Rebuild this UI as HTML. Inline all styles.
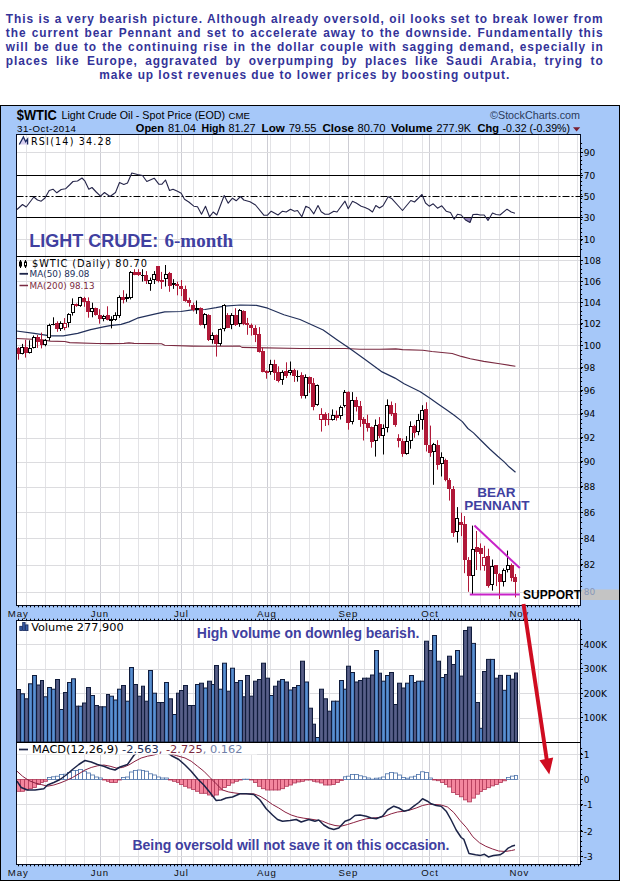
<!DOCTYPE html>
<html><head><meta charset="utf-8"><title>Light Crude 6-month chart</title>
<style>
html,body{margin:0;padding:0;background:#fff;}
body{width:620px;height:881px;position:relative;overflow:hidden;font-family:"Liberation Sans",Arial,sans-serif;}
.para{position:absolute;left:5.8px;top:11.5px;width:597.8px;color:#333399;font-weight:bold;font-size:11.9px;line-height:14px;letter-spacing:0.93px;}
.ln{text-align:justify;text-align-last:justify;white-space:nowrap;height:14px;}
.ln.last{text-align:center;text-align-last:center;}
</style></head><body>
<div class="para"><div class="ln">This is a very bearish picture. Although already oversold, oil looks set to break lower from</div><div class="ln">the current bear Pennant and set to accelerate away to the downside. Fundamentally this</div><div class="ln">will be due to the continuing rise in the dollar couple with sagging demand, especially in</div><div class="ln">places like Europe, aggravated by overpumping by places like Saudi Arabia, trying to</div><div class="ln last">make up lost revenues due to lower prices by boosting output.</div></div>
<svg width="620" height="776" viewBox="0 105 620 776" style="position:absolute;left:0;top:105px" font-family="Liberation Sans, Arial, sans-serif">
<rect x="0.5" y="105.5" width="619" height="775" fill="#a6c8f9" stroke="#000" stroke-width="1"/>
<rect x="16.5" y="134.5" width="564.0" height="471.0" fill="#fff"/>
<rect x="16.5" y="620.5" width="564.0" height="244.0" fill="#fff"/>
<line x1="26.5" y1="134.5" x2="26.5" y2="605.5" stroke="#e3e3e6" stroke-width="1"/>
<line x1="45.5" y1="134.5" x2="45.5" y2="605.5" stroke="#e3e3e6" stroke-width="1"/>
<line x1="65.5" y1="134.5" x2="65.5" y2="605.5" stroke="#e3e3e6" stroke-width="1"/>
<line x1="84.5" y1="134.5" x2="84.5" y2="605.5" stroke="#e3e3e6" stroke-width="1"/>
<line x1="100.5" y1="134.5" x2="100.5" y2="605.5" stroke="#e3e3e6" stroke-width="1"/>
<line x1="119.5" y1="134.5" x2="119.5" y2="605.5" stroke="#e3e3e6" stroke-width="1"/>
<line x1="138.5" y1="134.5" x2="138.5" y2="605.5" stroke="#e3e3e6" stroke-width="1"/>
<line x1="158.5" y1="134.5" x2="158.5" y2="605.5" stroke="#e3e3e6" stroke-width="1"/>
<line x1="177.5" y1="134.5" x2="177.5" y2="605.5" stroke="#e3e3e6" stroke-width="1"/>
<line x1="193.5" y1="134.5" x2="193.5" y2="605.5" stroke="#e3e3e6" stroke-width="1"/>
<line x1="212.5" y1="134.5" x2="212.5" y2="605.5" stroke="#e3e3e6" stroke-width="1"/>
<line x1="232.5" y1="134.5" x2="232.5" y2="605.5" stroke="#e3e3e6" stroke-width="1"/>
<line x1="251.5" y1="134.5" x2="251.5" y2="605.5" stroke="#e3e3e6" stroke-width="1"/>
<line x1="270.5" y1="134.5" x2="270.5" y2="605.5" stroke="#e3e3e6" stroke-width="1"/>
<line x1="290.5" y1="134.5" x2="290.5" y2="605.5" stroke="#e3e3e6" stroke-width="1"/>
<line x1="309.5" y1="134.5" x2="309.5" y2="605.5" stroke="#e3e3e6" stroke-width="1"/>
<line x1="329.5" y1="134.5" x2="329.5" y2="605.5" stroke="#e3e3e6" stroke-width="1"/>
<line x1="348.5" y1="134.5" x2="348.5" y2="605.5" stroke="#e3e3e6" stroke-width="1"/>
<line x1="364.5" y1="134.5" x2="364.5" y2="605.5" stroke="#e3e3e6" stroke-width="1"/>
<line x1="383.5" y1="134.5" x2="383.5" y2="605.5" stroke="#e3e3e6" stroke-width="1"/>
<line x1="402.5" y1="134.5" x2="402.5" y2="605.5" stroke="#e3e3e6" stroke-width="1"/>
<line x1="422.5" y1="134.5" x2="422.5" y2="605.5" stroke="#e3e3e6" stroke-width="1"/>
<line x1="441.5" y1="134.5" x2="441.5" y2="605.5" stroke="#e3e3e6" stroke-width="1"/>
<line x1="461.5" y1="134.5" x2="461.5" y2="605.5" stroke="#e3e3e6" stroke-width="1"/>
<line x1="480.5" y1="134.5" x2="480.5" y2="605.5" stroke="#e3e3e6" stroke-width="1"/>
<line x1="499.5" y1="134.5" x2="499.5" y2="605.5" stroke="#e3e3e6" stroke-width="1"/>
<line x1="519.5" y1="134.5" x2="519.5" y2="605.5" stroke="#e3e3e6" stroke-width="1"/>
<line x1="538.5" y1="134.5" x2="538.5" y2="605.5" stroke="#e3e3e6" stroke-width="1"/>
<line x1="558.5" y1="134.5" x2="558.5" y2="605.5" stroke="#e3e3e6" stroke-width="1"/>
<line x1="577.5" y1="134.5" x2="577.5" y2="605.5" stroke="#e3e3e6" stroke-width="1"/>
<line x1="100.5" y1="134.5" x2="100.5" y2="605.5" stroke="#cdcdd4" stroke-width="1"/>
<line x1="181.5" y1="134.5" x2="181.5" y2="605.5" stroke="#cdcdd4" stroke-width="1"/>
<line x1="267.5" y1="134.5" x2="267.5" y2="605.5" stroke="#cdcdd4" stroke-width="1"/>
<line x1="348.5" y1="134.5" x2="348.5" y2="605.5" stroke="#cdcdd4" stroke-width="1"/>
<line x1="429.5" y1="134.5" x2="429.5" y2="605.5" stroke="#cdcdd4" stroke-width="1"/>
<line x1="519.5" y1="134.5" x2="519.5" y2="605.5" stroke="#cdcdd4" stroke-width="1"/>
<line x1="26.5" y1="620.5" x2="26.5" y2="864.5" stroke="#e3e3e6" stroke-width="1"/>
<line x1="45.5" y1="620.5" x2="45.5" y2="864.5" stroke="#e3e3e6" stroke-width="1"/>
<line x1="65.5" y1="620.5" x2="65.5" y2="864.5" stroke="#e3e3e6" stroke-width="1"/>
<line x1="84.5" y1="620.5" x2="84.5" y2="864.5" stroke="#e3e3e6" stroke-width="1"/>
<line x1="100.5" y1="620.5" x2="100.5" y2="864.5" stroke="#e3e3e6" stroke-width="1"/>
<line x1="119.5" y1="620.5" x2="119.5" y2="864.5" stroke="#e3e3e6" stroke-width="1"/>
<line x1="138.5" y1="620.5" x2="138.5" y2="864.5" stroke="#e3e3e6" stroke-width="1"/>
<line x1="158.5" y1="620.5" x2="158.5" y2="864.5" stroke="#e3e3e6" stroke-width="1"/>
<line x1="177.5" y1="620.5" x2="177.5" y2="864.5" stroke="#e3e3e6" stroke-width="1"/>
<line x1="193.5" y1="620.5" x2="193.5" y2="864.5" stroke="#e3e3e6" stroke-width="1"/>
<line x1="212.5" y1="620.5" x2="212.5" y2="864.5" stroke="#e3e3e6" stroke-width="1"/>
<line x1="232.5" y1="620.5" x2="232.5" y2="864.5" stroke="#e3e3e6" stroke-width="1"/>
<line x1="251.5" y1="620.5" x2="251.5" y2="864.5" stroke="#e3e3e6" stroke-width="1"/>
<line x1="270.5" y1="620.5" x2="270.5" y2="864.5" stroke="#e3e3e6" stroke-width="1"/>
<line x1="290.5" y1="620.5" x2="290.5" y2="864.5" stroke="#e3e3e6" stroke-width="1"/>
<line x1="309.5" y1="620.5" x2="309.5" y2="864.5" stroke="#e3e3e6" stroke-width="1"/>
<line x1="329.5" y1="620.5" x2="329.5" y2="864.5" stroke="#e3e3e6" stroke-width="1"/>
<line x1="348.5" y1="620.5" x2="348.5" y2="864.5" stroke="#e3e3e6" stroke-width="1"/>
<line x1="364.5" y1="620.5" x2="364.5" y2="864.5" stroke="#e3e3e6" stroke-width="1"/>
<line x1="383.5" y1="620.5" x2="383.5" y2="864.5" stroke="#e3e3e6" stroke-width="1"/>
<line x1="402.5" y1="620.5" x2="402.5" y2="864.5" stroke="#e3e3e6" stroke-width="1"/>
<line x1="422.5" y1="620.5" x2="422.5" y2="864.5" stroke="#e3e3e6" stroke-width="1"/>
<line x1="441.5" y1="620.5" x2="441.5" y2="864.5" stroke="#e3e3e6" stroke-width="1"/>
<line x1="461.5" y1="620.5" x2="461.5" y2="864.5" stroke="#e3e3e6" stroke-width="1"/>
<line x1="480.5" y1="620.5" x2="480.5" y2="864.5" stroke="#e3e3e6" stroke-width="1"/>
<line x1="499.5" y1="620.5" x2="499.5" y2="864.5" stroke="#e3e3e6" stroke-width="1"/>
<line x1="519.5" y1="620.5" x2="519.5" y2="864.5" stroke="#e3e3e6" stroke-width="1"/>
<line x1="538.5" y1="620.5" x2="538.5" y2="864.5" stroke="#e3e3e6" stroke-width="1"/>
<line x1="558.5" y1="620.5" x2="558.5" y2="864.5" stroke="#e3e3e6" stroke-width="1"/>
<line x1="577.5" y1="620.5" x2="577.5" y2="864.5" stroke="#e3e3e6" stroke-width="1"/>
<line x1="100.5" y1="620.5" x2="100.5" y2="864.5" stroke="#cdcdd4" stroke-width="1"/>
<line x1="181.5" y1="620.5" x2="181.5" y2="864.5" stroke="#cdcdd4" stroke-width="1"/>
<line x1="267.5" y1="620.5" x2="267.5" y2="864.5" stroke="#cdcdd4" stroke-width="1"/>
<line x1="348.5" y1="620.5" x2="348.5" y2="864.5" stroke="#cdcdd4" stroke-width="1"/>
<line x1="429.5" y1="620.5" x2="429.5" y2="864.5" stroke="#cdcdd4" stroke-width="1"/>
<line x1="519.5" y1="620.5" x2="519.5" y2="864.5" stroke="#cdcdd4" stroke-width="1"/>
<line x1="16.5" y1="239.5" x2="580.5" y2="239.5" stroke="#dcdcdf" stroke-width="1" />
<line x1="16.5" y1="152.5" x2="580.5" y2="152.5" stroke="#dcdcdf" stroke-width="1" />
<line x1="16.5" y1="592.5" x2="580.5" y2="592.5" stroke="#dcdcdf" stroke-width="1" />
<line x1="16.5" y1="565.5" x2="580.5" y2="565.5" stroke="#dcdcdf" stroke-width="1" />
<line x1="16.5" y1="538.5" x2="580.5" y2="538.5" stroke="#dcdcdf" stroke-width="1" />
<line x1="16.5" y1="512.5" x2="580.5" y2="512.5" stroke="#dcdcdf" stroke-width="1" />
<line x1="16.5" y1="487.5" x2="580.5" y2="487.5" stroke="#dcdcdf" stroke-width="1" />
<line x1="16.5" y1="462.5" x2="580.5" y2="462.5" stroke="#dcdcdf" stroke-width="1" />
<line x1="16.5" y1="438.5" x2="580.5" y2="438.5" stroke="#dcdcdf" stroke-width="1" />
<line x1="16.5" y1="414.5" x2="580.5" y2="414.5" stroke="#dcdcdf" stroke-width="1" />
<line x1="16.5" y1="391.5" x2="580.5" y2="391.5" stroke="#dcdcdf" stroke-width="1" />
<line x1="16.5" y1="368.5" x2="580.5" y2="368.5" stroke="#dcdcdf" stroke-width="1" />
<line x1="16.5" y1="345.5" x2="580.5" y2="345.5" stroke="#dcdcdf" stroke-width="1" />
<line x1="16.5" y1="324.5" x2="580.5" y2="324.5" stroke="#dcdcdf" stroke-width="1" />
<line x1="16.5" y1="302.5" x2="580.5" y2="302.5" stroke="#dcdcdf" stroke-width="1" />
<line x1="16.5" y1="281.5" x2="580.5" y2="281.5" stroke="#dcdcdf" stroke-width="1" />
<line x1="16.5" y1="260.5" x2="580.5" y2="260.5" stroke="#dcdcdf" stroke-width="1" />
<line x1="16.5" y1="718.5" x2="580.5" y2="718.5" stroke="#dcdcdf" stroke-width="1" />
<line x1="16.5" y1="693.5" x2="580.5" y2="693.5" stroke="#dcdcdf" stroke-width="1" />
<line x1="16.5" y1="669.5" x2="580.5" y2="669.5" stroke="#dcdcdf" stroke-width="1" />
<line x1="16.5" y1="644.5" x2="580.5" y2="644.5" stroke="#dcdcdf" stroke-width="1" />
<line x1="16.5" y1="754.5" x2="580.5" y2="754.5" stroke="#dcdcdf" stroke-width="1" />
<line x1="16.5" y1="779.5" x2="580.5" y2="779.5" stroke="#dcdcdf" stroke-width="1" />
<line x1="16.5" y1="804.5" x2="580.5" y2="804.5" stroke="#dcdcdf" stroke-width="1" />
<line x1="16.5" y1="831.5" x2="580.5" y2="831.5" stroke="#dcdcdf" stroke-width="1" />
<line x1="16.5" y1="856.5" x2="580.5" y2="856.5" stroke="#dcdcdf" stroke-width="1" />
<clipPath id="c30"><rect x="16.5" y="217.5" width="564.0" height="40"/></clipPath>
<polygon clip-path="url(#c30)" fill="#9484b8" points="17.0,209.5 22.5,204.5 26.2,207.0 33.8,197.0 37.5,200.0 41.2,201.2 45.0,198.0 49.2,190.5 53.0,189.2 56.8,192.8 61.2,189.5 65.5,188.8 69.5,185.0 73.0,181.5 77.5,181.0 82.0,178.0 85.0,181.2 88.8,189.2 92.0,187.5 96.2,192.0 100.5,196.2 104.5,192.5 110.0,196.5 115.5,192.5 119.5,182.5 123.8,184.5 127.5,183.0 131.8,173.0 137.5,174.5 142.5,175.5 146.8,181.5 154.2,178.2 158.8,184.2 162.0,184.2 165.5,180.0 169.5,190.5 173.0,189.2 177.5,191.2 181.2,193.2 184.5,199.2 188.8,202.0 193.8,206.2 197.5,206.8 201.5,214.2 205.5,206.2 209.5,216.8 213.2,212.0 216.8,215.0 224.2,195.5 228.2,203.2 232.5,198.2 236.2,200.8 240.5,196.5 243.8,200.0 250.0,201.8 255.5,205.0 263.8,215.2 267.5,215.2 271.2,211.2 278.0,215.0 282.5,211.2 286.2,212.0 290.5,209.2 294.5,211.2 297.5,210.5 301.8,216.8 305.8,206.2 309.5,208.0 313.8,213.8 318.0,205.5 321.2,211.8 325.0,214.2 328.8,214.2 333.8,211.2 337.0,212.0 345.0,201.2 348.2,208.8 352.5,201.2 356.2,203.0 361.2,206.2 365.0,207.5 368.8,209.2 372.5,212.0 375.8,205.5 379.5,208.0 383.0,205.8 388.2,196.8 392.0,198.8 402.5,210.5 410.8,200.5 414.5,202.0 422.0,194.5 425.5,203.0 429.2,206.2 433.2,203.8 437.5,208.2 441.8,205.8 446.2,211.2 450.5,212.5 454.2,219.2 457.5,214.2 461.2,215.0 465.5,220.0 470.0,222.5 473.0,214.5 477.0,214.2 480.0,215.0 484.2,215.0 488.0,220.5 492.5,213.0 496.2,214.5 500.0,215.0 507.0,209.2 511.2,212.0 515.0,213.2 515.0,217.5 17.0,217.5"/>
<line x1="16.5" y1="175.5" x2="580.5" y2="175.5" stroke="#000" stroke-width="1" />
<line x1="16.5" y1="217.5" x2="580.5" y2="217.5" stroke="#000" stroke-width="1" />
<line x1="16.5" y1="196.5" x2="580.5" y2="196.5" stroke="#000" stroke-width="1" stroke-dasharray="7 2 2 2"/>
<polyline fill="none" stroke="#26264a" stroke-width="1.1" stroke-linejoin="round" points="17.0,209.5 22.5,204.5 26.2,207.0 33.8,197.0 37.5,200.0 41.2,201.2 45.0,198.0 49.2,190.5 53.0,189.2 56.8,192.8 61.2,189.5 65.5,188.8 69.5,185.0 73.0,181.5 77.5,181.0 82.0,178.0 85.0,181.2 88.8,189.2 92.0,187.5 96.2,192.0 100.5,196.2 104.5,192.5 110.0,196.5 115.5,192.5 119.5,182.5 123.8,184.5 127.5,183.0 131.8,173.0 137.5,174.5 142.5,175.5 146.8,181.5 154.2,178.2 158.8,184.2 162.0,184.2 165.5,180.0 169.5,190.5 173.0,189.2 177.5,191.2 181.2,193.2 184.5,199.2 188.8,202.0 193.8,206.2 197.5,206.8 201.5,214.2 205.5,206.2 209.5,216.8 213.2,212.0 216.8,215.0 224.2,195.5 228.2,203.2 232.5,198.2 236.2,200.8 240.5,196.5 243.8,200.0 250.0,201.8 255.5,205.0 263.8,215.2 267.5,215.2 271.2,211.2 278.0,215.0 282.5,211.2 286.2,212.0 290.5,209.2 294.5,211.2 297.5,210.5 301.8,216.8 305.8,206.2 309.5,208.0 313.8,213.8 318.0,205.5 321.2,211.8 325.0,214.2 328.8,214.2 333.8,211.2 337.0,212.0 345.0,201.2 348.2,208.8 352.5,201.2 356.2,203.0 361.2,206.2 365.0,207.5 368.8,209.2 372.5,212.0 375.8,205.5 379.5,208.0 383.0,205.8 388.2,196.8 392.0,198.8 402.5,210.5 410.8,200.5 414.5,202.0 422.0,194.5 425.5,203.0 429.2,206.2 433.2,203.8 437.5,208.2 441.8,205.8 446.2,211.2 450.5,212.5 454.2,219.2 457.5,214.2 461.2,215.0 465.5,220.0 470.0,222.5 473.0,214.5 477.0,214.2 480.0,215.0 484.2,215.0 488.0,220.5 492.5,213.0 496.2,214.5 500.0,215.0 507.0,209.2 511.2,212.0 515.0,213.2"/>
<polyline fill="none" stroke="#7a2a40" stroke-width="1.1" stroke-linejoin="round" points="16.5,338.5 42.3,339.8 50.3,341.1 64.8,341.5 69.7,342.6 97.1,343.5 110.0,343.6 124.0,343.4 129.0,342.9 134.0,343.4 161.5,343.7 164.7,345.3 192.1,346.1 205.0,346.3 240.0,346.1 242.0,347.4 300.0,348.5 345.0,348.5 360.0,349.2 380.0,349.2 395.8,348.9 402.6,349.6 422.9,350.3 431.9,351.5 452.2,353.5 461.3,356.4 470.3,358.7 483.8,361.4 499.6,363.7 515.4,366.3"/>
<polyline fill="none" stroke="#22305a" stroke-width="1.2" stroke-linejoin="round" points="16.5,331.0 34.2,333.4 50.3,335.8 63.2,335.8 77.7,333.4 90.6,329.7 103.5,326.9 110.0,325.6 121.1,324.4 129.2,321.9 137.3,318.2 153.4,314.4 164.7,311.9 180.8,311.5 192.1,309.8 205.0,309.5 216.1,307.7 224.2,306.1 240.3,305.0 256.5,305.3 267.7,308.2 283.9,314.7 300.0,319.5 323.2,330.0 336.9,339.7 349.8,348.5 364.4,359.0 382.1,371.9 395.0,378.1 404.1,383.7 420.3,391.8 430.0,398.2 438.1,403.9 446.1,409.5 454.2,415.2 462.3,421.6 467.9,428.5 473.5,432.9 481.6,441.0 489.7,449.0 497.7,456.3 504.2,461.9 509.0,466.8 515.5,472.3"/>
<line x1="18.5" y1="347.1" x2="18.5" y2="359.7" stroke="#b01838" stroke-width="1"/>
<rect x="16" y="348" width="4" height="6" fill="#b01838"/>
<line x1="22.5" y1="343.9" x2="22.5" y2="354.4" stroke="#000" stroke-width="1"/>
<rect x="20.5" y="347.5" width="3" height="6" fill="#fff" stroke="#000" stroke-width="1"/>
<line x1="25.5" y1="339.8" x2="25.5" y2="357.6" stroke="#b01838" stroke-width="1"/>
<rect x="24" y="347" width="4" height="6" fill="#b01838"/>
<line x1="29.5" y1="340.3" x2="29.5" y2="353.5" stroke="#000" stroke-width="1"/>
<rect x="28.5" y="348.5" width="3" height="4" fill="#fff" stroke="#000" stroke-width="1"/>
<line x1="33.5" y1="335.5" x2="33.5" y2="348.4" stroke="#000" stroke-width="1"/>
<rect x="32.5" y="337.5" width="3" height="10" fill="#fff" stroke="#000" stroke-width="1"/>
<line x1="37.5" y1="335.0" x2="37.5" y2="347.9" stroke="#b01838" stroke-width="1"/>
<rect x="36" y="337" width="4" height="5" fill="#b01838"/>
<line x1="41.5" y1="332.6" x2="41.5" y2="348.4" stroke="#b01838" stroke-width="1"/>
<rect x="40" y="340" width="4" height="5" fill="#b01838"/>
<line x1="45.5" y1="339.0" x2="45.5" y2="346.3" stroke="#000" stroke-width="1"/>
<rect x="43.5" y="340.5" width="3" height="4" fill="#fff" stroke="#000" stroke-width="1"/>
<line x1="49.5" y1="323.7" x2="49.5" y2="340.6" stroke="#000" stroke-width="1"/>
<rect x="47.5" y="325.5" width="3" height="12" fill="#fff" stroke="#000" stroke-width="1"/>
<line x1="53.5" y1="317.3" x2="53.5" y2="325.3" stroke="#000" stroke-width="1"/>
<rect x="51" y="324" width="4" height="1" fill="#000"/>
<line x1="57.5" y1="321.3" x2="57.5" y2="331.8" stroke="#b01838" stroke-width="1"/>
<rect x="55" y="323" width="4" height="6" fill="#b01838"/>
<line x1="60.5" y1="321.3" x2="60.5" y2="331.0" stroke="#000" stroke-width="1"/>
<rect x="59.5" y="323.5" width="3" height="5" fill="#fff" stroke="#000" stroke-width="1"/>
<line x1="64.5" y1="318.1" x2="64.5" y2="330.2" stroke="#b01838" stroke-width="1"/>
<rect x="63.5" y="323.5" width="3" height="4" fill="#fff" stroke="#b01838" stroke-width="1"/>
<line x1="68.5" y1="313.2" x2="68.5" y2="327.4" stroke="#000" stroke-width="1"/>
<rect x="67.5" y="314.5" width="3" height="8" fill="#fff" stroke="#000" stroke-width="1"/>
<line x1="72.5" y1="298.4" x2="72.5" y2="315.6" stroke="#000" stroke-width="1"/>
<rect x="71.5" y="304.5" width="3" height="8" fill="#fff" stroke="#000" stroke-width="1"/>
<line x1="76.5" y1="303.5" x2="76.5" y2="306.8" stroke="#b01838" stroke-width="1"/>
<rect x="74" y="304" width="4" height="2" fill="#b01838"/>
<line x1="80.5" y1="296.8" x2="80.5" y2="306.8" stroke="#000" stroke-width="1"/>
<rect x="78.5" y="297.5" width="3" height="8" fill="#fff" stroke="#000" stroke-width="1"/>
<line x1="84.5" y1="296.8" x2="84.5" y2="306.8" stroke="#b01838" stroke-width="1"/>
<rect x="82" y="298" width="4" height="4" fill="#b01838"/>
<line x1="88.5" y1="297.4" x2="88.5" y2="317.7" stroke="#b01838" stroke-width="1"/>
<rect x="86" y="301" width="4" height="11" fill="#b01838"/>
<line x1="92.5" y1="302.7" x2="92.5" y2="317.3" stroke="#000" stroke-width="1"/>
<rect x="90.5" y="308.5" width="3" height="3" fill="#fff" stroke="#000" stroke-width="1"/>
<line x1="95.5" y1="307.6" x2="95.5" y2="315.6" stroke="#b01838" stroke-width="1"/>
<rect x="94" y="308" width="4" height="7" fill="#b01838"/>
<line x1="99.5" y1="309.2" x2="99.5" y2="323.7" stroke="#b01838" stroke-width="1"/>
<rect x="98" y="315" width="4" height="4" fill="#b01838"/>
<line x1="103.5" y1="314.8" x2="103.5" y2="321.3" stroke="#000" stroke-width="1"/>
<rect x="102.5" y="316.5" width="3" height="2" fill="#fff" stroke="#000" stroke-width="1"/>
<line x1="107.5" y1="306.3" x2="107.5" y2="320.3" stroke="#b01838" stroke-width="1"/>
<rect x="106" y="315" width="4" height="5" fill="#b01838"/>
<line x1="111.5" y1="316.3" x2="111.5" y2="328.4" stroke="#000" stroke-width="1"/>
<rect x="109" y="319" width="4" height="2" fill="#000"/>
<line x1="115.5" y1="312.3" x2="115.5" y2="320.8" stroke="#000" stroke-width="1"/>
<rect x="113.5" y="315.5" width="3" height="4" fill="#fff" stroke="#000" stroke-width="1"/>
<line x1="119.5" y1="295.3" x2="119.5" y2="317.9" stroke="#000" stroke-width="1"/>
<rect x="117.5" y="297.5" width="3" height="18" fill="#fff" stroke="#000" stroke-width="1"/>
<line x1="123.5" y1="290.2" x2="123.5" y2="303.4" stroke="#b01838" stroke-width="1"/>
<rect x="121" y="297" width="4" height="3" fill="#b01838"/>
<line x1="126.5" y1="293.7" x2="126.5" y2="301.8" stroke="#000" stroke-width="1"/>
<rect x="125.5" y="297.5" width="3" height="1" fill="#fff" stroke="#000" stroke-width="1"/>
<line x1="130.5" y1="271.1" x2="130.5" y2="299.4" stroke="#000" stroke-width="1"/>
<rect x="129.5" y="272.5" width="3" height="25" fill="#fff" stroke="#000" stroke-width="1"/>
<line x1="134.5" y1="269.2" x2="134.5" y2="275.2" stroke="#b01838" stroke-width="1"/>
<rect x="133" y="272" width="4" height="3" fill="#b01838"/>
<line x1="138.5" y1="269.2" x2="138.5" y2="276.0" stroke="#b01838" stroke-width="1"/>
<rect x="137" y="272" width="4" height="3" fill="#b01838"/>
<line x1="142.5" y1="269.2" x2="142.5" y2="281.6" stroke="#000" stroke-width="1"/>
<rect x="141" y="275" width="4" height="1" fill="#000"/>
<line x1="146.5" y1="271.1" x2="146.5" y2="284.0" stroke="#b01838" stroke-width="1"/>
<rect x="144" y="275" width="4" height="6" fill="#b01838"/>
<line x1="150.5" y1="277.6" x2="150.5" y2="290.8" stroke="#000" stroke-width="1"/>
<rect x="148.5" y="280.5" width="3" height="3" fill="#fff" stroke="#000" stroke-width="1"/>
<line x1="154.5" y1="271.1" x2="154.5" y2="284.0" stroke="#000" stroke-width="1"/>
<rect x="152.5" y="274.5" width="3" height="5" fill="#fff" stroke="#000" stroke-width="1"/>
<line x1="158.5" y1="266.0" x2="158.5" y2="282.4" stroke="#b01838" stroke-width="1"/>
<rect x="156" y="266" width="4" height="15" fill="#b01838"/>
<line x1="161.5" y1="271.9" x2="161.5" y2="288.9" stroke="#b01838" stroke-width="1"/>
<rect x="160" y="280" width="4" height="2" fill="#b01838"/>
<line x1="165.5" y1="265.0" x2="165.5" y2="286.5" stroke="#000" stroke-width="1"/>
<rect x="164.5" y="274.5" width="3" height="4" fill="#fff" stroke="#000" stroke-width="1"/>
<line x1="169.5" y1="271.9" x2="169.5" y2="291.8" stroke="#b01838" stroke-width="1"/>
<rect x="168" y="273" width="4" height="13" fill="#b01838"/>
<line x1="173.5" y1="279.2" x2="173.5" y2="288.9" stroke="#000" stroke-width="1"/>
<rect x="172" y="283" width="4" height="2" fill="#000"/>
<line x1="177.5" y1="281.6" x2="177.5" y2="295.3" stroke="#b01838" stroke-width="1"/>
<rect x="175" y="284" width="4" height="2" fill="#b01838"/>
<line x1="181.5" y1="280.0" x2="181.5" y2="296.1" stroke="#b01838" stroke-width="1"/>
<rect x="179" y="286" width="4" height="3" fill="#b01838"/>
<line x1="185.5" y1="285.6" x2="185.5" y2="301.8" stroke="#b01838" stroke-width="1"/>
<rect x="183" y="289" width="4" height="12" fill="#b01838"/>
<line x1="189.5" y1="297.7" x2="189.5" y2="306.6" stroke="#b01838" stroke-width="1"/>
<rect x="187" y="300" width="4" height="3" fill="#b01838"/>
<line x1="193.5" y1="302.6" x2="193.5" y2="311.5" stroke="#b01838" stroke-width="1"/>
<rect x="191" y="305" width="4" height="5" fill="#b01838"/>
<line x1="196.5" y1="300.5" x2="196.5" y2="313.9" stroke="#000" stroke-width="1"/>
<rect x="195" y="308" width="4" height="2" fill="#000"/>
<line x1="200.5" y1="307.4" x2="200.5" y2="325.5" stroke="#b01838" stroke-width="1"/>
<rect x="199" y="308" width="4" height="17" fill="#b01838"/>
<line x1="204.5" y1="313.1" x2="204.5" y2="328.4" stroke="#000" stroke-width="1"/>
<rect x="203.5" y="314.5" width="3" height="10" fill="#fff" stroke="#000" stroke-width="1"/>
<line x1="208.5" y1="314.2" x2="208.5" y2="341.0" stroke="#b01838" stroke-width="1"/>
<rect x="207" y="315" width="4" height="25" fill="#b01838"/>
<line x1="212.5" y1="332.4" x2="212.5" y2="343.7" stroke="#000" stroke-width="1"/>
<rect x="210.5" y="335.5" width="3" height="4" fill="#fff" stroke="#000" stroke-width="1"/>
<line x1="216.5" y1="334.5" x2="216.5" y2="356.6" stroke="#b01838" stroke-width="1"/>
<rect x="214" y="335" width="4" height="9" fill="#b01838"/>
<line x1="220.5" y1="328.4" x2="220.5" y2="345.8" stroke="#000" stroke-width="1"/>
<rect x="218.5" y="329.5" width="3" height="14" fill="#fff" stroke="#000" stroke-width="1"/>
<line x1="224.5" y1="304.2" x2="224.5" y2="331.3" stroke="#000" stroke-width="1"/>
<rect x="222.5" y="305.5" width="3" height="23" fill="#fff" stroke="#000" stroke-width="1"/>
<line x1="227.5" y1="313.1" x2="227.5" y2="328.1" stroke="#b01838" stroke-width="1"/>
<rect x="226" y="315" width="4" height="13" fill="#b01838"/>
<line x1="231.5" y1="313.1" x2="231.5" y2="329.2" stroke="#000" stroke-width="1"/>
<rect x="230.5" y="315.5" width="3" height="9" fill="#fff" stroke="#000" stroke-width="1"/>
<line x1="235.5" y1="308.2" x2="235.5" y2="326.0" stroke="#b01838" stroke-width="1"/>
<rect x="234" y="315" width="4" height="10" fill="#b01838"/>
<line x1="239.5" y1="309.0" x2="239.5" y2="326.8" stroke="#000" stroke-width="1"/>
<rect x="238.5" y="310.5" width="3" height="13" fill="#fff" stroke="#000" stroke-width="1"/>
<line x1="243.5" y1="310.3" x2="243.5" y2="325.2" stroke="#b01838" stroke-width="1"/>
<rect x="242" y="311" width="4" height="13" fill="#b01838"/>
<line x1="247.5" y1="317.9" x2="247.5" y2="334.8" stroke="#b01838" stroke-width="1"/>
<rect x="245" y="323" width="4" height="2" fill="#b01838"/>
<line x1="251.5" y1="323.5" x2="251.5" y2="335.6" stroke="#b01838" stroke-width="1"/>
<rect x="249" y="325" width="4" height="3" fill="#b01838"/>
<line x1="255.5" y1="325.2" x2="255.5" y2="342.1" stroke="#b01838" stroke-width="1"/>
<rect x="253" y="328" width="4" height="7" fill="#b01838"/>
<line x1="259.5" y1="327.1" x2="259.5" y2="352.6" stroke="#b01838" stroke-width="1"/>
<rect x="257" y="334" width="4" height="18" fill="#b01838"/>
<line x1="262.5" y1="347.7" x2="262.5" y2="372.3" stroke="#b01838" stroke-width="1"/>
<rect x="261" y="351" width="4" height="21" fill="#b01838"/>
<line x1="266.5" y1="370.3" x2="266.5" y2="378.7" stroke="#b01838" stroke-width="1"/>
<rect x="265" y="371" width="4" height="2" fill="#b01838"/>
<line x1="270.5" y1="359.8" x2="270.5" y2="374.8" stroke="#000" stroke-width="1"/>
<rect x="269.5" y="364.5" width="3" height="7" fill="#fff" stroke="#000" stroke-width="1"/>
<line x1="274.5" y1="359.8" x2="274.5" y2="380.0" stroke="#b01838" stroke-width="1"/>
<rect x="273" y="364" width="4" height="9" fill="#b01838"/>
<line x1="278.5" y1="366.3" x2="278.5" y2="382.4" stroke="#b01838" stroke-width="1"/>
<rect x="276" y="372" width="4" height="9" fill="#b01838"/>
<line x1="282.5" y1="370.3" x2="282.5" y2="384.8" stroke="#000" stroke-width="1"/>
<rect x="280.5" y="372.5" width="3" height="7" fill="#fff" stroke="#000" stroke-width="1"/>
<line x1="286.5" y1="362.3" x2="286.5" y2="378.1" stroke="#b01838" stroke-width="1"/>
<rect x="284" y="371" width="4" height="5" fill="#b01838"/>
<line x1="290.5" y1="361.5" x2="290.5" y2="375.2" stroke="#000" stroke-width="1"/>
<rect x="288.5" y="370.5" width="3" height="2" fill="#fff" stroke="#000" stroke-width="1"/>
<line x1="294.5" y1="368.7" x2="294.5" y2="381.9" stroke="#b01838" stroke-width="1"/>
<rect x="292" y="370" width="4" height="6" fill="#b01838"/>
<line x1="297.5" y1="370.3" x2="297.5" y2="381.6" stroke="#000" stroke-width="1"/>
<rect x="296" y="376" width="4" height="1" fill="#000"/>
<line x1="301.5" y1="372.3" x2="301.5" y2="398.5" stroke="#b01838" stroke-width="1"/>
<rect x="300" y="375" width="4" height="21" fill="#b01838"/>
<line x1="305.5" y1="374.4" x2="305.5" y2="398.5" stroke="#000" stroke-width="1"/>
<rect x="304.5" y="377.5" width="3" height="18" fill="#fff" stroke="#000" stroke-width="1"/>
<line x1="309.5" y1="376.5" x2="309.5" y2="392.9" stroke="#b01838" stroke-width="1"/>
<rect x="308" y="377" width="4" height="7" fill="#b01838"/>
<line x1="313.5" y1="378.1" x2="313.5" y2="410.3" stroke="#b01838" stroke-width="1"/>
<rect x="311" y="383" width="4" height="24" fill="#b01838"/>
<line x1="317.5" y1="384.5" x2="317.5" y2="405.8" stroke="#000" stroke-width="1"/>
<rect x="315.5" y="385.5" width="3" height="19" fill="#fff" stroke="#000" stroke-width="1"/>
<line x1="321.5" y1="408.2" x2="321.5" y2="431.6" stroke="#b01838" stroke-width="1"/>
<rect x="319.5" y="414.5" width="3" height="5" fill="#fff" stroke="#b01838" stroke-width="1"/>
<line x1="325.5" y1="412.3" x2="325.5" y2="426.0" stroke="#b01838" stroke-width="1"/>
<rect x="323" y="414" width="4" height="6" fill="#b01838"/>
<line x1="328.5" y1="413.1" x2="328.5" y2="425.2" stroke="#b01838" stroke-width="1"/>
<rect x="327" y="419" width="4" height="1" fill="#b01838"/>
<line x1="332.5" y1="409.4" x2="332.5" y2="420.6" stroke="#000" stroke-width="1"/>
<rect x="331.5" y="415.5" width="3" height="4" fill="#fff" stroke="#000" stroke-width="1"/>
<line x1="336.5" y1="410.6" x2="336.5" y2="420.6" stroke="#b01838" stroke-width="1"/>
<rect x="335" y="415" width="4" height="3" fill="#b01838"/>
<line x1="340.5" y1="405.5" x2="340.5" y2="419.5" stroke="#000" stroke-width="1"/>
<rect x="339.5" y="407.5" width="3" height="8" fill="#fff" stroke="#000" stroke-width="1"/>
<line x1="344.5" y1="390.0" x2="344.5" y2="407.4" stroke="#000" stroke-width="1"/>
<rect x="343.5" y="392.5" width="3" height="13" fill="#fff" stroke="#000" stroke-width="1"/>
<line x1="348.5" y1="391.3" x2="348.5" y2="429.7" stroke="#b01838" stroke-width="1"/>
<rect x="346" y="392" width="4" height="31" fill="#b01838"/>
<line x1="352.5" y1="392.1" x2="352.5" y2="424.4" stroke="#000" stroke-width="1"/>
<rect x="350.5" y="400.5" width="3" height="21" fill="#fff" stroke="#000" stroke-width="1"/>
<line x1="356.5" y1="396.9" x2="356.5" y2="411.5" stroke="#b01838" stroke-width="1"/>
<rect x="354" y="400" width="4" height="7" fill="#b01838"/>
<line x1="360.5" y1="401.0" x2="360.5" y2="426.8" stroke="#b01838" stroke-width="1"/>
<rect x="358" y="406" width="4" height="14" fill="#b01838"/>
<line x1="363.5" y1="417.1" x2="363.5" y2="440.5" stroke="#b01838" stroke-width="1"/>
<rect x="362" y="419" width="4" height="5" fill="#b01838"/>
<line x1="367.5" y1="414.7" x2="367.5" y2="431.6" stroke="#b01838" stroke-width="1"/>
<rect x="366" y="423" width="4" height="5" fill="#b01838"/>
<line x1="371.5" y1="426.5" x2="371.5" y2="447.7" stroke="#b01838" stroke-width="1"/>
<rect x="370" y="427" width="4" height="15" fill="#b01838"/>
<line x1="375.5" y1="419.5" x2="375.5" y2="456.6" stroke="#000" stroke-width="1"/>
<rect x="374.5" y="425.5" width="3" height="15" fill="#fff" stroke="#000" stroke-width="1"/>
<line x1="379.5" y1="417.1" x2="379.5" y2="438.1" stroke="#b01838" stroke-width="1"/>
<rect x="378" y="424" width="4" height="12" fill="#b01838"/>
<line x1="383.5" y1="424.4" x2="383.5" y2="454.5" stroke="#000" stroke-width="1"/>
<rect x="381.5" y="428.5" width="3" height="7" fill="#fff" stroke="#000" stroke-width="1"/>
<line x1="387.5" y1="399.4" x2="387.5" y2="432.4" stroke="#000" stroke-width="1"/>
<rect x="385.5" y="405.5" width="3" height="22" fill="#fff" stroke="#000" stroke-width="1"/>
<line x1="391.5" y1="401.5" x2="391.5" y2="416.0" stroke="#b01838" stroke-width="1"/>
<rect x="389" y="405" width="4" height="9" fill="#b01838"/>
<line x1="395.5" y1="403.1" x2="395.5" y2="426.8" stroke="#b01838" stroke-width="1"/>
<rect x="393" y="413" width="4" height="12" fill="#b01838"/>
<line x1="398.5" y1="434.2" x2="398.5" y2="447.4" stroke="#b01838" stroke-width="1"/>
<rect x="397" y="438" width="4" height="3" fill="#b01838"/>
<line x1="402.5" y1="438.5" x2="402.5" y2="456.8" stroke="#b01838" stroke-width="1"/>
<rect x="401" y="441" width="4" height="13" fill="#b01838"/>
<line x1="406.5" y1="436.1" x2="406.5" y2="454.7" stroke="#000" stroke-width="1"/>
<rect x="405.5" y="441.5" width="3" height="12" fill="#fff" stroke="#000" stroke-width="1"/>
<line x1="410.5" y1="421.3" x2="410.5" y2="448.7" stroke="#000" stroke-width="1"/>
<rect x="409.5" y="426.5" width="3" height="14" fill="#fff" stroke="#000" stroke-width="1"/>
<line x1="414.5" y1="424.8" x2="414.5" y2="437.7" stroke="#b01838" stroke-width="1"/>
<rect x="412" y="426" width="4" height="7" fill="#b01838"/>
<line x1="418.5" y1="413.9" x2="418.5" y2="435.3" stroke="#000" stroke-width="1"/>
<rect x="416.5" y="420.5" width="3" height="11" fill="#fff" stroke="#000" stroke-width="1"/>
<line x1="422.5" y1="405.2" x2="422.5" y2="429.7" stroke="#000" stroke-width="1"/>
<rect x="420.5" y="410.5" width="3" height="9" fill="#fff" stroke="#000" stroke-width="1"/>
<line x1="426.5" y1="402.3" x2="426.5" y2="451.5" stroke="#b01838" stroke-width="1"/>
<rect x="424" y="409" width="4" height="36" fill="#b01838"/>
<line x1="430.5" y1="425.6" x2="430.5" y2="456.8" stroke="#b01838" stroke-width="1"/>
<rect x="428" y="445" width="4" height="8" fill="#b01838"/>
<line x1="433.5" y1="442.9" x2="433.5" y2="484.8" stroke="#000" stroke-width="1"/>
<rect x="432.5" y="444.5" width="3" height="7" fill="#fff" stroke="#000" stroke-width="1"/>
<line x1="437.5" y1="440.2" x2="437.5" y2="469.7" stroke="#b01838" stroke-width="1"/>
<rect x="436" y="445" width="4" height="20" fill="#b01838"/>
<line x1="441.5" y1="452.3" x2="441.5" y2="476.5" stroke="#000" stroke-width="1"/>
<rect x="440.5" y="457.5" width="3" height="6" fill="#fff" stroke="#000" stroke-width="1"/>
<line x1="445.5" y1="458.7" x2="445.5" y2="481.3" stroke="#b01838" stroke-width="1"/>
<rect x="444" y="460" width="4" height="20" fill="#b01838"/>
<line x1="449.5" y1="478.1" x2="449.5" y2="500.6" stroke="#b01838" stroke-width="1"/>
<rect x="447" y="480" width="4" height="9" fill="#b01838"/>
<line x1="453.5" y1="486.1" x2="453.5" y2="536.9" stroke="#b01838" stroke-width="1"/>
<rect x="451" y="489" width="4" height="44" fill="#b01838"/>
<line x1="457.5" y1="507.1" x2="457.5" y2="542.6" stroke="#000" stroke-width="1"/>
<rect x="455.5" y="518.5" width="3" height="13" fill="#fff" stroke="#000" stroke-width="1"/>
<line x1="461.5" y1="512.7" x2="461.5" y2="536.1" stroke="#b01838" stroke-width="1"/>
<rect x="459" y="522" width="4" height="3" fill="#b01838"/>
<line x1="464.5" y1="516.0" x2="464.5" y2="573.2" stroke="#b01838" stroke-width="1"/>
<rect x="463" y="524" width="4" height="36" fill="#b01838"/>
<line x1="468.5" y1="557.1" x2="468.5" y2="591.8" stroke="#b01838" stroke-width="1"/>
<rect x="467" y="560" width="4" height="16" fill="#b01838"/>
<line x1="472.5" y1="525.6" x2="472.5" y2="594.2" stroke="#000" stroke-width="1"/>
<rect x="471.5" y="549.5" width="3" height="26" fill="#fff" stroke="#000" stroke-width="1"/>
<line x1="476.5" y1="531.0" x2="476.5" y2="570.0" stroke="#b01838" stroke-width="1"/>
<rect x="475" y="547" width="4" height="5" fill="#b01838"/>
<line x1="480.5" y1="543.4" x2="480.5" y2="570.3" stroke="#b01838" stroke-width="1"/>
<rect x="479" y="548" width="4" height="6" fill="#b01838"/>
<line x1="484.5" y1="545.8" x2="484.5" y2="570.8" stroke="#b01838" stroke-width="1"/>
<rect x="482.5" y="557.5" width="3" height="8" fill="#fff" stroke="#b01838" stroke-width="1"/>
<line x1="488.5" y1="548.7" x2="488.5" y2="587.7" stroke="#b01838" stroke-width="1"/>
<rect x="486" y="556" width="4" height="30" fill="#b01838"/>
<line x1="492.5" y1="559.5" x2="492.5" y2="590.6" stroke="#000" stroke-width="1"/>
<rect x="490.5" y="566.5" width="3" height="18" fill="#fff" stroke="#000" stroke-width="1"/>
<line x1="496.5" y1="565.2" x2="496.5" y2="586.1" stroke="#b01838" stroke-width="1"/>
<rect x="494" y="565" width="4" height="9" fill="#b01838"/>
<line x1="499.5" y1="573.2" x2="499.5" y2="599.0" stroke="#b01838" stroke-width="1"/>
<rect x="498" y="574" width="4" height="8" fill="#b01838"/>
<line x1="503.5" y1="568.4" x2="503.5" y2="586.5" stroke="#000" stroke-width="1"/>
<rect x="502.5" y="570.5" width="3" height="11" fill="#fff" stroke="#000" stroke-width="1"/>
<line x1="507.5" y1="550.6" x2="507.5" y2="572.4" stroke="#000" stroke-width="1"/>
<rect x="506.5" y="565.5" width="3" height="4" fill="#fff" stroke="#000" stroke-width="1"/>
<line x1="511.5" y1="563.5" x2="511.5" y2="581.3" stroke="#b01838" stroke-width="1"/>
<rect x="510" y="565" width="4" height="13" fill="#b01838"/>
<line x1="515.5" y1="574.0" x2="515.5" y2="597.4" stroke="#b01838" stroke-width="1"/>
<rect x="513" y="577" width="4" height="5" fill="#b01838"/>
<line x1="474.4" y1="525.6" x2="519.8" y2="568.1" stroke="#c822c8" stroke-width="2"/>
<line x1="469.8" y1="594.6" x2="519.8" y2="594.6" stroke="#c822c8" stroke-width="2"/>
<defs><linearGradient id="gb" x1="0" x2="1" y1="0" y2="0"><stop offset="0" stop-color="#3a68a8"/><stop offset="0.5" stop-color="#5a90d0"/><stop offset="1" stop-color="#3a68a8"/></linearGradient><linearGradient id="gd" x1="0" x2="1" y1="0" y2="0"><stop offset="0" stop-color="#424a74"/><stop offset="0.5" stop-color="#586088"/><stop offset="1" stop-color="#424a74"/></linearGradient></defs>
<rect x="16.5" y="689.5" width="4" height="52.5" fill="url(#gd)" stroke="#101c3c" stroke-width="1"/>
<rect x="20.5" y="693.8" width="4" height="48.2" fill="url(#gb)" stroke="#101c3c" stroke-width="1"/>
<rect x="24.5" y="698.8" width="4" height="43.2" fill="url(#gd)" stroke="#101c3c" stroke-width="1"/>
<rect x="28.5" y="683.8" width="4" height="58.2" fill="url(#gb)" stroke="#101c3c" stroke-width="1"/>
<rect x="32.5" y="675.5" width="4" height="66.5" fill="url(#gb)" stroke="#101c3c" stroke-width="1"/>
<rect x="36.5" y="685.0" width="4" height="57.0" fill="url(#gd)" stroke="#101c3c" stroke-width="1"/>
<rect x="40.5" y="680.5" width="3" height="61.5" fill="url(#gd)" stroke="#101c3c" stroke-width="1"/>
<rect x="43.5" y="696.8" width="4" height="45.2" fill="url(#gb)" stroke="#101c3c" stroke-width="1"/>
<rect x="47.5" y="687.5" width="4" height="54.5" fill="url(#gb)" stroke="#101c3c" stroke-width="1"/>
<rect x="51.5" y="689.2" width="4" height="52.8" fill="url(#gb)" stroke="#101c3c" stroke-width="1"/>
<rect x="55.5" y="679.5" width="4" height="62.5" fill="url(#gd)" stroke="#101c3c" stroke-width="1"/>
<rect x="59.5" y="709.5" width="4" height="32.5" fill="url(#gb)" stroke="#101c3c" stroke-width="1"/>
<rect x="63.5" y="692.5" width="4" height="49.5" fill="url(#gd)" stroke="#101c3c" stroke-width="1"/>
<rect x="67.5" y="682.5" width="4" height="59.5" fill="url(#gb)" stroke="#101c3c" stroke-width="1"/>
<rect x="71.5" y="678.8" width="4" height="63.2" fill="url(#gb)" stroke="#101c3c" stroke-width="1"/>
<rect x="75.5" y="706.2" width="3" height="35.8" fill="url(#gd)" stroke="#101c3c" stroke-width="1"/>
<rect x="78.5" y="706.2" width="4" height="35.8" fill="url(#gb)" stroke="#101c3c" stroke-width="1"/>
<rect x="82.5" y="703.0" width="4" height="39.0" fill="url(#gd)" stroke="#101c3c" stroke-width="1"/>
<rect x="86.5" y="687.5" width="4" height="54.5" fill="url(#gd)" stroke="#101c3c" stroke-width="1"/>
<rect x="90.5" y="695.5" width="4" height="46.5" fill="url(#gb)" stroke="#101c3c" stroke-width="1"/>
<rect x="94.5" y="705.5" width="4" height="36.5" fill="url(#gd)" stroke="#101c3c" stroke-width="1"/>
<rect x="98.5" y="706.8" width="4" height="35.2" fill="url(#gd)" stroke="#101c3c" stroke-width="1"/>
<rect x="102.5" y="706.8" width="4" height="35.2" fill="url(#gb)" stroke="#101c3c" stroke-width="1"/>
<rect x="106.5" y="694.5" width="3" height="47.5" fill="url(#gd)" stroke="#101c3c" stroke-width="1"/>
<rect x="109.5" y="696.2" width="4" height="45.8" fill="url(#gb)" stroke="#101c3c" stroke-width="1"/>
<rect x="113.5" y="700.0" width="4" height="42.0" fill="url(#gb)" stroke="#101c3c" stroke-width="1"/>
<rect x="117.5" y="689.2" width="4" height="52.8" fill="url(#gb)" stroke="#101c3c" stroke-width="1"/>
<rect x="121.5" y="685.5" width="4" height="56.5" fill="url(#gd)" stroke="#101c3c" stroke-width="1"/>
<rect x="125.5" y="701.2" width="4" height="40.8" fill="url(#gb)" stroke="#101c3c" stroke-width="1"/>
<rect x="129.5" y="667.5" width="4" height="74.5" fill="url(#gb)" stroke="#101c3c" stroke-width="1"/>
<rect x="133.5" y="684.5" width="4" height="57.5" fill="url(#gd)" stroke="#101c3c" stroke-width="1"/>
<rect x="137.5" y="696.2" width="4" height="45.8" fill="url(#gd)" stroke="#101c3c" stroke-width="1"/>
<rect x="141.5" y="686.2" width="3" height="55.8" fill="url(#gd)" stroke="#101c3c" stroke-width="1"/>
<rect x="144.5" y="701.2" width="4" height="40.8" fill="url(#gd)" stroke="#101c3c" stroke-width="1"/>
<rect x="148.5" y="670.5" width="4" height="71.5" fill="url(#gb)" stroke="#101c3c" stroke-width="1"/>
<rect x="152.5" y="693.2" width="4" height="48.8" fill="url(#gb)" stroke="#101c3c" stroke-width="1"/>
<rect x="156.5" y="702.5" width="4" height="39.5" fill="url(#gd)" stroke="#101c3c" stroke-width="1"/>
<rect x="160.5" y="702.5" width="4" height="39.5" fill="url(#gd)" stroke="#101c3c" stroke-width="1"/>
<rect x="164.5" y="682.5" width="4" height="59.5" fill="url(#gb)" stroke="#101c3c" stroke-width="1"/>
<rect x="168.5" y="698.8" width="4" height="43.2" fill="url(#gd)" stroke="#101c3c" stroke-width="1"/>
<rect x="172.5" y="714.5" width="4" height="27.5" fill="url(#gb)" stroke="#101c3c" stroke-width="1"/>
<rect x="176.5" y="693.2" width="3" height="48.8" fill="url(#gd)" stroke="#101c3c" stroke-width="1"/>
<rect x="179.5" y="690.5" width="4" height="51.5" fill="url(#gd)" stroke="#101c3c" stroke-width="1"/>
<rect x="183.5" y="685.5" width="4" height="56.5" fill="url(#gd)" stroke="#101c3c" stroke-width="1"/>
<rect x="187.5" y="705.5" width="4" height="36.5" fill="url(#gd)" stroke="#101c3c" stroke-width="1"/>
<rect x="191.5" y="705.5" width="4" height="36.5" fill="url(#gd)" stroke="#101c3c" stroke-width="1"/>
<rect x="195.5" y="684.5" width="4" height="57.5" fill="url(#gb)" stroke="#101c3c" stroke-width="1"/>
<rect x="199.5" y="683.2" width="4" height="58.8" fill="url(#gd)" stroke="#101c3c" stroke-width="1"/>
<rect x="203.5" y="688.0" width="4" height="54.0" fill="url(#gb)" stroke="#101c3c" stroke-width="1"/>
<rect x="207.5" y="681.2" width="4" height="60.8" fill="url(#gd)" stroke="#101c3c" stroke-width="1"/>
<rect x="211.5" y="684.5" width="3" height="57.5" fill="url(#gb)" stroke="#101c3c" stroke-width="1"/>
<rect x="214.5" y="665.5" width="4" height="76.5" fill="url(#gd)" stroke="#101c3c" stroke-width="1"/>
<rect x="218.5" y="689.2" width="4" height="52.8" fill="url(#gb)" stroke="#101c3c" stroke-width="1"/>
<rect x="222.5" y="663.2" width="4" height="78.8" fill="url(#gb)" stroke="#101c3c" stroke-width="1"/>
<rect x="226.5" y="691.2" width="4" height="50.8" fill="url(#gd)" stroke="#101c3c" stroke-width="1"/>
<rect x="230.5" y="668.2" width="4" height="73.8" fill="url(#gb)" stroke="#101c3c" stroke-width="1"/>
<rect x="234.5" y="682.5" width="4" height="59.5" fill="url(#gd)" stroke="#101c3c" stroke-width="1"/>
<rect x="238.5" y="680.5" width="4" height="61.5" fill="url(#gb)" stroke="#101c3c" stroke-width="1"/>
<rect x="242.5" y="696.8" width="3" height="45.2" fill="url(#gd)" stroke="#101c3c" stroke-width="1"/>
<rect x="245.5" y="675.5" width="4" height="66.5" fill="url(#gd)" stroke="#101c3c" stroke-width="1"/>
<rect x="249.5" y="696.2" width="4" height="45.8" fill="url(#gd)" stroke="#101c3c" stroke-width="1"/>
<rect x="253.5" y="681.2" width="4" height="60.8" fill="url(#gd)" stroke="#101c3c" stroke-width="1"/>
<rect x="257.5" y="679.5" width="4" height="62.5" fill="url(#gd)" stroke="#101c3c" stroke-width="1"/>
<rect x="261.5" y="663.2" width="4" height="78.8" fill="url(#gd)" stroke="#101c3c" stroke-width="1"/>
<rect x="265.5" y="678.2" width="4" height="63.8" fill="url(#gd)" stroke="#101c3c" stroke-width="1"/>
<rect x="269.5" y="695.5" width="4" height="46.5" fill="url(#gb)" stroke="#101c3c" stroke-width="1"/>
<rect x="273.5" y="686.2" width="4" height="55.8" fill="url(#gd)" stroke="#101c3c" stroke-width="1"/>
<rect x="277.5" y="681.2" width="3" height="60.8" fill="url(#gd)" stroke="#101c3c" stroke-width="1"/>
<rect x="280.5" y="679.5" width="4" height="62.5" fill="url(#gb)" stroke="#101c3c" stroke-width="1"/>
<rect x="284.5" y="682.0" width="4" height="60.0" fill="url(#gd)" stroke="#101c3c" stroke-width="1"/>
<rect x="288.5" y="690.0" width="4" height="52.0" fill="url(#gb)" stroke="#101c3c" stroke-width="1"/>
<rect x="292.5" y="687.5" width="4" height="54.5" fill="url(#gd)" stroke="#101c3c" stroke-width="1"/>
<rect x="296.5" y="685.5" width="4" height="56.5" fill="url(#gb)" stroke="#101c3c" stroke-width="1"/>
<rect x="300.5" y="661.2" width="4" height="80.8" fill="url(#gd)" stroke="#101c3c" stroke-width="1"/>
<rect x="304.5" y="682.0" width="4" height="60.0" fill="url(#gb)" stroke="#101c3c" stroke-width="1"/>
<rect x="308.5" y="708.2" width="4" height="33.8" fill="url(#gd)" stroke="#101c3c" stroke-width="1"/>
<rect x="312.5" y="724.2" width="3" height="17.8" fill="url(#gd)" stroke="#101c3c" stroke-width="1"/>
<rect x="315.5" y="737.5" width="4" height="4.5" fill="url(#gb)" stroke="#101c3c" stroke-width="1"/>
<rect x="319.5" y="689.2" width="4" height="52.8" fill="url(#gd)" stroke="#101c3c" stroke-width="1"/>
<rect x="323.5" y="698.8" width="4" height="43.2" fill="url(#gd)" stroke="#101c3c" stroke-width="1"/>
<rect x="327.5" y="711.2" width="4" height="30.8" fill="url(#gd)" stroke="#101c3c" stroke-width="1"/>
<rect x="331.5" y="701.2" width="4" height="40.8" fill="url(#gb)" stroke="#101c3c" stroke-width="1"/>
<rect x="335.5" y="701.2" width="4" height="40.8" fill="url(#gb)" stroke="#101c3c" stroke-width="1"/>
<rect x="339.5" y="680.5" width="4" height="61.5" fill="url(#gb)" stroke="#101c3c" stroke-width="1"/>
<rect x="343.5" y="689.2" width="3" height="52.8" fill="url(#gb)" stroke="#101c3c" stroke-width="1"/>
<rect x="346.5" y="666.2" width="4" height="75.8" fill="url(#gd)" stroke="#101c3c" stroke-width="1"/>
<rect x="350.5" y="672.5" width="4" height="69.5" fill="url(#gb)" stroke="#101c3c" stroke-width="1"/>
<rect x="354.5" y="682.0" width="4" height="60.0" fill="url(#gd)" stroke="#101c3c" stroke-width="1"/>
<rect x="358.5" y="680.5" width="4" height="61.5" fill="url(#gd)" stroke="#101c3c" stroke-width="1"/>
<rect x="362.5" y="678.2" width="4" height="63.8" fill="url(#gd)" stroke="#101c3c" stroke-width="1"/>
<rect x="366.5" y="678.2" width="4" height="63.8" fill="url(#gd)" stroke="#101c3c" stroke-width="1"/>
<rect x="370.5" y="675.0" width="4" height="67.0" fill="url(#gd)" stroke="#101c3c" stroke-width="1"/>
<rect x="374.5" y="650.5" width="4" height="91.5" fill="url(#gb)" stroke="#101c3c" stroke-width="1"/>
<rect x="378.5" y="673.2" width="3" height="68.8" fill="url(#gd)" stroke="#101c3c" stroke-width="1"/>
<rect x="381.5" y="681.2" width="4" height="60.8" fill="url(#gb)" stroke="#101c3c" stroke-width="1"/>
<rect x="385.5" y="675.5" width="4" height="66.5" fill="url(#gb)" stroke="#101c3c" stroke-width="1"/>
<rect x="389.5" y="672.5" width="4" height="69.5" fill="url(#gd)" stroke="#101c3c" stroke-width="1"/>
<rect x="393.5" y="704.5" width="4" height="37.5" fill="url(#gd)" stroke="#101c3c" stroke-width="1"/>
<rect x="397.5" y="683.2" width="4" height="58.8" fill="url(#gd)" stroke="#101c3c" stroke-width="1"/>
<rect x="401.5" y="688.0" width="4" height="54.0" fill="url(#gd)" stroke="#101c3c" stroke-width="1"/>
<rect x="405.5" y="683.2" width="4" height="58.8" fill="url(#gb)" stroke="#101c3c" stroke-width="1"/>
<rect x="409.5" y="675.5" width="4" height="66.5" fill="url(#gb)" stroke="#101c3c" stroke-width="1"/>
<rect x="413.5" y="682.5" width="3" height="59.5" fill="url(#gd)" stroke="#101c3c" stroke-width="1"/>
<rect x="416.5" y="681.2" width="4" height="60.8" fill="url(#gb)" stroke="#101c3c" stroke-width="1"/>
<rect x="420.5" y="681.2" width="4" height="60.8" fill="url(#gb)" stroke="#101c3c" stroke-width="1"/>
<rect x="424.5" y="641.2" width="4" height="100.8" fill="url(#gd)" stroke="#101c3c" stroke-width="1"/>
<rect x="428.5" y="650.5" width="4" height="91.5" fill="url(#gd)" stroke="#101c3c" stroke-width="1"/>
<rect x="432.5" y="635.5" width="4" height="106.5" fill="url(#gb)" stroke="#101c3c" stroke-width="1"/>
<rect x="436.5" y="661.2" width="4" height="80.8" fill="url(#gd)" stroke="#101c3c" stroke-width="1"/>
<rect x="440.5" y="677.5" width="4" height="64.5" fill="url(#gb)" stroke="#101c3c" stroke-width="1"/>
<rect x="444.5" y="674.5" width="3" height="67.5" fill="url(#gd)" stroke="#101c3c" stroke-width="1"/>
<rect x="447.5" y="656.2" width="4" height="85.8" fill="url(#gd)" stroke="#101c3c" stroke-width="1"/>
<rect x="451.5" y="664.5" width="4" height="77.5" fill="url(#gd)" stroke="#101c3c" stroke-width="1"/>
<rect x="455.5" y="650.5" width="4" height="91.5" fill="url(#gb)" stroke="#101c3c" stroke-width="1"/>
<rect x="459.5" y="676.1" width="4" height="65.9" fill="url(#gd)" stroke="#101c3c" stroke-width="1"/>
<rect x="463.5" y="630.5" width="4" height="111.5" fill="url(#gd)" stroke="#101c3c" stroke-width="1"/>
<rect x="467.5" y="627.1" width="4" height="114.9" fill="url(#gd)" stroke="#101c3c" stroke-width="1"/>
<rect x="471.5" y="643.4" width="4" height="98.6" fill="url(#gb)" stroke="#101c3c" stroke-width="1"/>
<rect x="475.5" y="702.5" width="4" height="39.5" fill="url(#gd)" stroke="#101c3c" stroke-width="1"/>
<rect x="479.5" y="728.3" width="3" height="13.7" fill="url(#gb)" stroke="#101c3c" stroke-width="1"/>
<rect x="482.5" y="671.5" width="4" height="70.5" fill="url(#gd)" stroke="#101c3c" stroke-width="1"/>
<rect x="486.5" y="659.4" width="4" height="82.6" fill="url(#gd)" stroke="#101c3c" stroke-width="1"/>
<rect x="490.5" y="659.4" width="4" height="82.6" fill="url(#gb)" stroke="#101c3c" stroke-width="1"/>
<rect x="494.5" y="678.2" width="4" height="63.8" fill="url(#gd)" stroke="#101c3c" stroke-width="1"/>
<rect x="498.5" y="675.4" width="4" height="66.6" fill="url(#gd)" stroke="#101c3c" stroke-width="1"/>
<rect x="502.5" y="690.3" width="4" height="51.7" fill="url(#gb)" stroke="#101c3c" stroke-width="1"/>
<rect x="506.5" y="675.4" width="4" height="66.6" fill="url(#gb)" stroke="#101c3c" stroke-width="1"/>
<rect x="510.5" y="679.2" width="4" height="62.8" fill="url(#gd)" stroke="#101c3c" stroke-width="1"/>
<rect x="514.5" y="673.0" width="3" height="69.0" fill="url(#gd)" stroke="#101c3c" stroke-width="1"/>
<rect x="16.5" y="779.5" width="4" height="11.8" fill="#f4869e" stroke="#b03858" stroke-width="0.8"/>
<rect x="20.5" y="779.5" width="4" height="11.8" fill="#f4869e" stroke="#b03858" stroke-width="0.8"/>
<rect x="24.5" y="779.5" width="4" height="10.5" fill="#f4869e" stroke="#b03858" stroke-width="0.8"/>
<rect x="28.5" y="779.5" width="4" height="9.2" fill="#f4869e" stroke="#b03858" stroke-width="0.8"/>
<rect x="32.5" y="779.5" width="4" height="8.0" fill="#f4869e" stroke="#b03858" stroke-width="0.8"/>
<rect x="36.5" y="779.5" width="4" height="5.0" fill="#f4869e" stroke="#b03858" stroke-width="0.8"/>
<rect x="40.5" y="779.5" width="3" height="3.0" fill="#f4869e" stroke="#b03858" stroke-width="0.8"/>
<rect x="43.5" y="779.5" width="4" height="1.8" fill="#f4869e" stroke="#b03858" stroke-width="0.8"/>
<rect x="47.5" y="777.5" width="4" height="2.0" fill="#fff" stroke="#4a70a8" stroke-width="0.8"/>
<rect x="51.5" y="776.8" width="4" height="2.8" fill="#fff" stroke="#4a70a8" stroke-width="0.8"/>
<rect x="55.5" y="776.2" width="4" height="3.2" fill="#fff" stroke="#4a70a8" stroke-width="0.8"/>
<rect x="59.5" y="774.5" width="4" height="5.0" fill="#fff" stroke="#4a70a8" stroke-width="0.8"/>
<rect x="63.5" y="774.2" width="4" height="5.2" fill="#fff" stroke="#4a70a8" stroke-width="0.8"/>
<rect x="67.5" y="772.5" width="4" height="7.0" fill="#fff" stroke="#4a70a8" stroke-width="0.8"/>
<rect x="71.5" y="770.5" width="4" height="9.0" fill="#fff" stroke="#4a70a8" stroke-width="0.8"/>
<rect x="75.5" y="770.5" width="3" height="9.0" fill="#fff" stroke="#4a70a8" stroke-width="0.8"/>
<rect x="78.5" y="769.5" width="4" height="10.0" fill="#fff" stroke="#4a70a8" stroke-width="0.8"/>
<rect x="82.5" y="771.2" width="4" height="8.2" fill="#fff" stroke="#4a70a8" stroke-width="0.8"/>
<rect x="86.5" y="773.0" width="4" height="6.5" fill="#fff" stroke="#4a70a8" stroke-width="0.8"/>
<rect x="90.5" y="775.0" width="4" height="4.5" fill="#fff" stroke="#4a70a8" stroke-width="0.8"/>
<rect x="94.5" y="777.0" width="4" height="2.5" fill="#fff" stroke="#4a70a8" stroke-width="0.8"/>
<rect x="98.5" y="778.0" width="4" height="1.5" fill="#fff" stroke="#4a70a8" stroke-width="0.8"/>
<rect x="102.5" y="779.5" width="4" height="0.5" fill="#f4869e" stroke="#b03858" stroke-width="0.8"/>
<rect x="106.5" y="779.5" width="3" height="1.8" fill="#f4869e" stroke="#b03858" stroke-width="0.8"/>
<rect x="109.5" y="779.5" width="4" height="3.0" fill="#f4869e" stroke="#b03858" stroke-width="0.8"/>
<rect x="113.5" y="779.5" width="4" height="3.0" fill="#f4869e" stroke="#b03858" stroke-width="0.8"/>
<rect x="117.5" y="779.5" width="4" height="0.5" fill="#f4869e" stroke="#b03858" stroke-width="0.8"/>
<rect x="121.5" y="777.5" width="4" height="2.0" fill="#fff" stroke="#4a70a8" stroke-width="0.8"/>
<rect x="125.5" y="777.0" width="4" height="2.5" fill="#fff" stroke="#4a70a8" stroke-width="0.8"/>
<rect x="129.5" y="772.0" width="4" height="7.5" fill="#fff" stroke="#4a70a8" stroke-width="0.8"/>
<rect x="133.5" y="770.5" width="4" height="9.0" fill="#fff" stroke="#4a70a8" stroke-width="0.8"/>
<rect x="137.5" y="770.0" width="4" height="9.5" fill="#fff" stroke="#4a70a8" stroke-width="0.8"/>
<rect x="141.5" y="770.5" width="3" height="9.0" fill="#fff" stroke="#4a70a8" stroke-width="0.8"/>
<rect x="144.5" y="771.2" width="4" height="8.2" fill="#fff" stroke="#4a70a8" stroke-width="0.8"/>
<rect x="148.5" y="773.8" width="4" height="5.8" fill="#fff" stroke="#4a70a8" stroke-width="0.8"/>
<rect x="152.5" y="775.0" width="4" height="4.5" fill="#fff" stroke="#4a70a8" stroke-width="0.8"/>
<rect x="156.5" y="777.0" width="4" height="2.5" fill="#fff" stroke="#4a70a8" stroke-width="0.8"/>
<rect x="160.5" y="778.0" width="4" height="1.5" fill="#fff" stroke="#4a70a8" stroke-width="0.8"/>
<rect x="164.5" y="778.0" width="4" height="1.5" fill="#fff" stroke="#4a70a8" stroke-width="0.8"/>
<rect x="168.5" y="779.5" width="4" height="0.5" fill="#f4869e" stroke="#b03858" stroke-width="0.8"/>
<rect x="172.5" y="779.5" width="4" height="1.8" fill="#f4869e" stroke="#b03858" stroke-width="0.8"/>
<rect x="176.5" y="779.5" width="3" height="3.0" fill="#f4869e" stroke="#b03858" stroke-width="0.8"/>
<rect x="179.5" y="779.5" width="4" height="5.0" fill="#f4869e" stroke="#b03858" stroke-width="0.8"/>
<rect x="183.5" y="779.5" width="4" height="6.8" fill="#f4869e" stroke="#b03858" stroke-width="0.8"/>
<rect x="187.5" y="779.5" width="4" height="8.5" fill="#f4869e" stroke="#b03858" stroke-width="0.8"/>
<rect x="191.5" y="779.5" width="4" height="10.0" fill="#f4869e" stroke="#b03858" stroke-width="0.8"/>
<rect x="195.5" y="779.5" width="4" height="11.8" fill="#f4869e" stroke="#b03858" stroke-width="0.8"/>
<rect x="199.5" y="779.5" width="4" height="13.8" fill="#f4869e" stroke="#b03858" stroke-width="0.8"/>
<rect x="203.5" y="779.5" width="4" height="13.8" fill="#f4869e" stroke="#b03858" stroke-width="0.8"/>
<rect x="207.5" y="779.5" width="4" height="15.5" fill="#f4869e" stroke="#b03858" stroke-width="0.8"/>
<rect x="211.5" y="779.5" width="3" height="16.8" fill="#f4869e" stroke="#b03858" stroke-width="0.8"/>
<rect x="214.5" y="779.5" width="4" height="15.5" fill="#f4869e" stroke="#b03858" stroke-width="0.8"/>
<rect x="218.5" y="779.5" width="4" height="10.5" fill="#f4869e" stroke="#b03858" stroke-width="0.8"/>
<rect x="222.5" y="779.5" width="4" height="8.0" fill="#f4869e" stroke="#b03858" stroke-width="0.8"/>
<rect x="226.5" y="779.5" width="4" height="6.0" fill="#f4869e" stroke="#b03858" stroke-width="0.8"/>
<rect x="230.5" y="779.5" width="4" height="3.5" fill="#f4869e" stroke="#b03858" stroke-width="0.8"/>
<rect x="234.5" y="779.5" width="4" height="1.8" fill="#f4869e" stroke="#b03858" stroke-width="0.8"/>
<rect x="238.5" y="779.5" width="4" height="0.5" fill="#f4869e" stroke="#b03858" stroke-width="0.8"/>
<rect x="242.5" y="779.2" width="3" height="0.2" fill="#fff" stroke="#4a70a8" stroke-width="0.8"/>
<rect x="245.5" y="779.2" width="4" height="0.2" fill="#fff" stroke="#4a70a8" stroke-width="0.8"/>
<rect x="249.5" y="779.5" width="4" height="0.5" fill="#f4869e" stroke="#b03858" stroke-width="0.8"/>
<rect x="253.5" y="779.5" width="4" height="3.0" fill="#f4869e" stroke="#b03858" stroke-width="0.8"/>
<rect x="257.5" y="779.5" width="4" height="6.8" fill="#f4869e" stroke="#b03858" stroke-width="0.8"/>
<rect x="261.5" y="779.5" width="4" height="9.2" fill="#f4869e" stroke="#b03858" stroke-width="0.8"/>
<rect x="265.5" y="779.5" width="4" height="10.5" fill="#f4869e" stroke="#b03858" stroke-width="0.8"/>
<rect x="269.5" y="779.5" width="4" height="10.5" fill="#f4869e" stroke="#b03858" stroke-width="0.8"/>
<rect x="273.5" y="779.5" width="4" height="10.5" fill="#f4869e" stroke="#b03858" stroke-width="0.8"/>
<rect x="277.5" y="779.5" width="3" height="10.5" fill="#f4869e" stroke="#b03858" stroke-width="0.8"/>
<rect x="280.5" y="779.5" width="4" height="9.2" fill="#f4869e" stroke="#b03858" stroke-width="0.8"/>
<rect x="284.5" y="779.5" width="4" height="6.8" fill="#f4869e" stroke="#b03858" stroke-width="0.8"/>
<rect x="288.5" y="779.5" width="4" height="5.5" fill="#f4869e" stroke="#b03858" stroke-width="0.8"/>
<rect x="292.5" y="779.5" width="4" height="3.5" fill="#f4869e" stroke="#b03858" stroke-width="0.8"/>
<rect x="296.5" y="779.5" width="4" height="2.5" fill="#f4869e" stroke="#b03858" stroke-width="0.8"/>
<rect x="300.5" y="779.5" width="4" height="1.8" fill="#f4869e" stroke="#b03858" stroke-width="0.8"/>
<rect x="304.5" y="779.5" width="4" height="0.5" fill="#f4869e" stroke="#b03858" stroke-width="0.8"/>
<rect x="308.5" y="779.5" width="4" height="0.5" fill="#f4869e" stroke="#b03858" stroke-width="0.8"/>
<rect x="312.5" y="779.5" width="3" height="1.8" fill="#f4869e" stroke="#b03858" stroke-width="0.8"/>
<rect x="315.5" y="779.5" width="4" height="2.5" fill="#f4869e" stroke="#b03858" stroke-width="0.8"/>
<rect x="319.5" y="779.5" width="4" height="3.5" fill="#f4869e" stroke="#b03858" stroke-width="0.8"/>
<rect x="323.5" y="779.5" width="4" height="5.5" fill="#f4869e" stroke="#b03858" stroke-width="0.8"/>
<rect x="327.5" y="779.5" width="4" height="5.5" fill="#f4869e" stroke="#b03858" stroke-width="0.8"/>
<rect x="331.5" y="779.5" width="4" height="5.0" fill="#f4869e" stroke="#b03858" stroke-width="0.8"/>
<rect x="335.5" y="779.5" width="4" height="3.0" fill="#f4869e" stroke="#b03858" stroke-width="0.8"/>
<rect x="339.5" y="779.5" width="4" height="1.0" fill="#f4869e" stroke="#b03858" stroke-width="0.8"/>
<rect x="343.5" y="776.8" width="3" height="2.8" fill="#fff" stroke="#4a70a8" stroke-width="0.8"/>
<rect x="346.5" y="776.2" width="4" height="3.2" fill="#fff" stroke="#4a70a8" stroke-width="0.8"/>
<rect x="350.5" y="774.5" width="4" height="5.0" fill="#fff" stroke="#4a70a8" stroke-width="0.8"/>
<rect x="354.5" y="774.5" width="4" height="5.0" fill="#fff" stroke="#4a70a8" stroke-width="0.8"/>
<rect x="358.5" y="775.8" width="4" height="3.8" fill="#fff" stroke="#4a70a8" stroke-width="0.8"/>
<rect x="362.5" y="776.8" width="4" height="2.8" fill="#fff" stroke="#4a70a8" stroke-width="0.8"/>
<rect x="366.5" y="778.0" width="4" height="1.5" fill="#fff" stroke="#4a70a8" stroke-width="0.8"/>
<rect x="370.5" y="779.2" width="4" height="0.2" fill="#fff" stroke="#4a70a8" stroke-width="0.8"/>
<rect x="374.5" y="778.2" width="4" height="1.2" fill="#fff" stroke="#4a70a8" stroke-width="0.8"/>
<rect x="378.5" y="778.0" width="3" height="1.5" fill="#fff" stroke="#4a70a8" stroke-width="0.8"/>
<rect x="381.5" y="777.0" width="4" height="2.5" fill="#fff" stroke="#4a70a8" stroke-width="0.8"/>
<rect x="385.5" y="773.8" width="4" height="5.8" fill="#fff" stroke="#4a70a8" stroke-width="0.8"/>
<rect x="389.5" y="772.5" width="4" height="7.0" fill="#fff" stroke="#4a70a8" stroke-width="0.8"/>
<rect x="393.5" y="773.0" width="4" height="6.5" fill="#fff" stroke="#4a70a8" stroke-width="0.8"/>
<rect x="397.5" y="775.0" width="4" height="4.5" fill="#fff" stroke="#4a70a8" stroke-width="0.8"/>
<rect x="401.5" y="777.5" width="4" height="2.0" fill="#fff" stroke="#4a70a8" stroke-width="0.8"/>
<rect x="405.5" y="778.2" width="4" height="1.2" fill="#fff" stroke="#4a70a8" stroke-width="0.8"/>
<rect x="409.5" y="777.0" width="4" height="2.5" fill="#fff" stroke="#4a70a8" stroke-width="0.8"/>
<rect x="413.5" y="776.2" width="3" height="3.2" fill="#fff" stroke="#4a70a8" stroke-width="0.8"/>
<rect x="416.5" y="774.5" width="4" height="5.0" fill="#fff" stroke="#4a70a8" stroke-width="0.8"/>
<rect x="420.5" y="771.8" width="4" height="7.8" fill="#fff" stroke="#4a70a8" stroke-width="0.8"/>
<rect x="424.5" y="772.5" width="4" height="7.0" fill="#fff" stroke="#4a70a8" stroke-width="0.8"/>
<rect x="428.5" y="778.0" width="4" height="1.5" fill="#fff" stroke="#4a70a8" stroke-width="0.8"/>
<rect x="432.5" y="779.5" width="4" height="0.5" fill="#f4869e" stroke="#b03858" stroke-width="0.8"/>
<rect x="436.5" y="779.5" width="4" height="1.2" fill="#f4869e" stroke="#b03858" stroke-width="0.8"/>
<rect x="440.5" y="779.5" width="4" height="3.0" fill="#f4869e" stroke="#b03858" stroke-width="0.8"/>
<rect x="444.5" y="779.5" width="3" height="5.0" fill="#f4869e" stroke="#b03858" stroke-width="0.8"/>
<rect x="447.5" y="779.5" width="4" height="7.5" fill="#f4869e" stroke="#b03858" stroke-width="0.8"/>
<rect x="451.5" y="779.5" width="4" height="13.0" fill="#f4869e" stroke="#b03858" stroke-width="0.8"/>
<rect x="455.5" y="779.5" width="4" height="15.0" fill="#f4869e" stroke="#b03858" stroke-width="0.8"/>
<rect x="459.5" y="779.5" width="4" height="17.3" fill="#f4869e" stroke="#b03858" stroke-width="0.8"/>
<rect x="463.5" y="779.5" width="4" height="20.4" fill="#f4869e" stroke="#b03858" stroke-width="0.8"/>
<rect x="467.5" y="779.5" width="4" height="22.4" fill="#f4869e" stroke="#b03858" stroke-width="0.8"/>
<rect x="471.5" y="779.5" width="4" height="18.6" fill="#f4869e" stroke="#b03858" stroke-width="0.8"/>
<rect x="475.5" y="779.5" width="4" height="14.7" fill="#f4869e" stroke="#b03858" stroke-width="0.8"/>
<rect x="479.5" y="779.5" width="3" height="12.1" fill="#f4869e" stroke="#b03858" stroke-width="0.8"/>
<rect x="482.5" y="779.5" width="4" height="10.0" fill="#f4869e" stroke="#b03858" stroke-width="0.8"/>
<rect x="486.5" y="779.5" width="4" height="8.2" fill="#f4869e" stroke="#b03858" stroke-width="0.8"/>
<rect x="490.5" y="779.5" width="4" height="6.4" fill="#f4869e" stroke="#b03858" stroke-width="0.8"/>
<rect x="494.5" y="779.5" width="4" height="4.9" fill="#f4869e" stroke="#b03858" stroke-width="0.8"/>
<rect x="498.5" y="779.5" width="4" height="3.1" fill="#f4869e" stroke="#b03858" stroke-width="0.8"/>
<rect x="502.5" y="779.5" width="4" height="1.3" fill="#f4869e" stroke="#b03858" stroke-width="0.8"/>
<rect x="506.5" y="777.4" width="4" height="2.1" fill="#fff" stroke="#4a70a8" stroke-width="0.8"/>
<rect x="510.5" y="776.1" width="4" height="3.4" fill="#fff" stroke="#4a70a8" stroke-width="0.8"/>
<rect x="514.5" y="775.6" width="3" height="3.9" fill="#fff" stroke="#4a70a8" stroke-width="0.8"/>
<polyline fill="none" stroke="#8a2040" stroke-width="1.0" stroke-linejoin="round" points="17.0,771.2 22.5,776.2 28.8,780.5 35.0,783.0 41.2,784.5 47.5,786.2 53.8,785.0 60.0,783.0 66.2,780.5 72.5,777.5 78.8,773.8 85.0,770.0 91.2,767.5 97.5,765.8 103.8,765.0 110.0,766.2 116.2,768.0 122.5,767.5 128.8,765.0 135.0,761.2 141.2,758.0 147.5,756.2 153.8,755.0 160.0,753.0 168.0,753.0 176.2,755.5 185.0,758.0 191.2,761.2 197.5,766.2 203.8,771.2 210.0,777.5 216.2,783.8 222.5,790.0 228.8,792.0 235.0,793.0 241.2,793.8 247.5,793.8 253.8,793.8 260.0,796.2 266.2,800.0 272.5,804.5 278.8,808.0 285.0,812.0 291.2,815.0 297.5,817.0 303.8,818.2 310.0,819.0 316.2,820.0 322.5,821.2 328.8,823.8 335.0,825.5 341.2,826.2 347.5,824.5 353.8,822.5 360.0,820.5 366.2,818.8 372.5,818.0 378.8,817.5 385.0,816.2 391.2,813.8 397.5,812.0 403.8,811.2 410.0,810.0 416.2,808.0 422.5,805.5 428.8,804.2 435.0,804.5 441.2,805.0 447.5,807.0 453.8,812.5 460.0,820.5 466.5,827.7 472.9,836.8 479.4,842.7 485.8,846.3 492.3,848.9 498.7,851.0 505.2,851.5 511.6,850.5 515.0,849.7"/>
<polyline fill="none" stroke="#1c2448" stroke-width="1.5" stroke-linejoin="round" points="17.0,781.2 21.2,787.5 27.5,790.0 35.0,790.0 43.8,788.8 47.5,785.0 53.8,782.5 60.0,779.5 66.2,775.0 72.5,769.5 78.8,764.5 85.0,760.5 91.2,762.0 97.5,764.5 103.8,766.2 110.0,768.8 115.0,770.0 120.0,767.0 127.5,764.5 133.8,755.5 140.0,750.0 152.0,746.0 160.0,748.0 171.2,755.5 178.8,759.5 185.0,765.0 191.2,771.2 197.5,778.8 203.8,785.0 210.0,792.5 216.2,800.5 221.2,800.0 226.2,798.0 232.5,797.0 240.0,793.8 246.2,793.8 253.8,794.5 260.0,800.0 266.2,808.8 272.5,815.0 277.5,819.5 282.5,821.2 290.0,820.5 296.2,819.5 301.2,822.0 308.8,819.5 315.0,821.2 318.8,820.0 323.8,825.0 328.8,828.0 333.8,829.5 338.8,828.0 345.0,821.2 350.0,819.5 355.0,815.5 360.0,815.0 366.2,816.2 371.2,818.0 376.2,818.8 382.5,816.2 387.5,810.0 393.8,806.2 398.8,808.0 403.8,811.2 408.8,810.0 413.8,806.2 418.8,802.5 422.5,798.8 427.5,801.2 431.2,803.8 436.2,805.5 441.2,806.2 446.2,811.2 451.2,820.0 456.2,830.0 461.2,837.5 463.9,839.4 469.0,853.5 475.5,854.8 480.6,855.4 484.5,854.3 488.4,856.9 493.5,855.6 500.0,854.8 503.9,852.3 507.7,848.4 511.6,846.3 515.0,845.3"/>
<rect x="16.5" y="134.5" width="564.0" height="471.0" fill="none" stroke="#060c20" stroke-width="1" />
<line x1="16.5" y1="256.5" x2="580.5" y2="256.5" stroke="#000" stroke-width="1" />
<rect x="16.5" y="620.5" width="564.0" height="244.0" fill="none" stroke="#060c20" stroke-width="1" />
<line x1="16.5" y1="742.5" x2="580.5" y2="742.5" stroke="#000" stroke-width="1" />
<line x1="18.5" y1="605.5" x2="18.5" y2="607.3" stroke="#000" stroke-width="1"/>
<line x1="18.5" y1="620.5" x2="18.5" y2="618.7" stroke="#000" stroke-width="1"/>
<line x1="22.5" y1="605.5" x2="22.5" y2="607.3" stroke="#000" stroke-width="1"/>
<line x1="22.5" y1="620.5" x2="22.5" y2="618.7" stroke="#000" stroke-width="1"/>
<line x1="26.5" y1="605.5" x2="26.5" y2="607.3" stroke="#000" stroke-width="1"/>
<line x1="26.5" y1="620.5" x2="26.5" y2="618.7" stroke="#000" stroke-width="1"/>
<line x1="30.5" y1="605.5" x2="30.5" y2="607.3" stroke="#000" stroke-width="1"/>
<line x1="30.5" y1="620.5" x2="30.5" y2="618.7" stroke="#000" stroke-width="1"/>
<line x1="34.5" y1="605.5" x2="34.5" y2="607.3" stroke="#000" stroke-width="1"/>
<line x1="34.5" y1="620.5" x2="34.5" y2="618.7" stroke="#000" stroke-width="1"/>
<line x1="38.5" y1="605.5" x2="38.5" y2="607.3" stroke="#000" stroke-width="1"/>
<line x1="38.5" y1="620.5" x2="38.5" y2="618.7" stroke="#000" stroke-width="1"/>
<line x1="42.5" y1="605.5" x2="42.5" y2="607.3" stroke="#000" stroke-width="1"/>
<line x1="42.5" y1="620.5" x2="42.5" y2="618.7" stroke="#000" stroke-width="1"/>
<line x1="45.5" y1="605.5" x2="45.5" y2="607.3" stroke="#000" stroke-width="1"/>
<line x1="45.5" y1="620.5" x2="45.5" y2="618.7" stroke="#000" stroke-width="1"/>
<line x1="49.5" y1="605.5" x2="49.5" y2="607.3" stroke="#000" stroke-width="1"/>
<line x1="49.5" y1="620.5" x2="49.5" y2="618.7" stroke="#000" stroke-width="1"/>
<line x1="53.5" y1="605.5" x2="53.5" y2="607.3" stroke="#000" stroke-width="1"/>
<line x1="53.5" y1="620.5" x2="53.5" y2="618.7" stroke="#000" stroke-width="1"/>
<line x1="57.5" y1="605.5" x2="57.5" y2="607.3" stroke="#000" stroke-width="1"/>
<line x1="57.5" y1="620.5" x2="57.5" y2="618.7" stroke="#000" stroke-width="1"/>
<line x1="61.5" y1="605.5" x2="61.5" y2="607.3" stroke="#000" stroke-width="1"/>
<line x1="61.5" y1="620.5" x2="61.5" y2="618.7" stroke="#000" stroke-width="1"/>
<line x1="65.5" y1="605.5" x2="65.5" y2="607.3" stroke="#000" stroke-width="1"/>
<line x1="65.5" y1="620.5" x2="65.5" y2="618.7" stroke="#000" stroke-width="1"/>
<line x1="69.5" y1="605.5" x2="69.5" y2="607.3" stroke="#000" stroke-width="1"/>
<line x1="69.5" y1="620.5" x2="69.5" y2="618.7" stroke="#000" stroke-width="1"/>
<line x1="73.5" y1="605.5" x2="73.5" y2="607.3" stroke="#000" stroke-width="1"/>
<line x1="73.5" y1="620.5" x2="73.5" y2="618.7" stroke="#000" stroke-width="1"/>
<line x1="76.5" y1="605.5" x2="76.5" y2="607.3" stroke="#000" stroke-width="1"/>
<line x1="76.5" y1="620.5" x2="76.5" y2="618.7" stroke="#000" stroke-width="1"/>
<line x1="80.5" y1="605.5" x2="80.5" y2="607.3" stroke="#000" stroke-width="1"/>
<line x1="80.5" y1="620.5" x2="80.5" y2="618.7" stroke="#000" stroke-width="1"/>
<line x1="84.5" y1="605.5" x2="84.5" y2="607.3" stroke="#000" stroke-width="1"/>
<line x1="84.5" y1="620.5" x2="84.5" y2="618.7" stroke="#000" stroke-width="1"/>
<line x1="88.5" y1="605.5" x2="88.5" y2="607.3" stroke="#000" stroke-width="1"/>
<line x1="88.5" y1="620.5" x2="88.5" y2="618.7" stroke="#000" stroke-width="1"/>
<line x1="92.5" y1="605.5" x2="92.5" y2="607.3" stroke="#000" stroke-width="1"/>
<line x1="92.5" y1="620.5" x2="92.5" y2="618.7" stroke="#000" stroke-width="1"/>
<line x1="96.5" y1="605.5" x2="96.5" y2="607.3" stroke="#000" stroke-width="1"/>
<line x1="96.5" y1="620.5" x2="96.5" y2="618.7" stroke="#000" stroke-width="1"/>
<line x1="100.5" y1="605.5" x2="100.5" y2="607.3" stroke="#000" stroke-width="1"/>
<line x1="100.5" y1="620.5" x2="100.5" y2="618.7" stroke="#000" stroke-width="1"/>
<line x1="104.5" y1="605.5" x2="104.5" y2="607.3" stroke="#000" stroke-width="1"/>
<line x1="104.5" y1="620.5" x2="104.5" y2="618.7" stroke="#000" stroke-width="1"/>
<line x1="108.5" y1="605.5" x2="108.5" y2="607.3" stroke="#000" stroke-width="1"/>
<line x1="108.5" y1="620.5" x2="108.5" y2="618.7" stroke="#000" stroke-width="1"/>
<line x1="111.5" y1="605.5" x2="111.5" y2="607.3" stroke="#000" stroke-width="1"/>
<line x1="111.5" y1="620.5" x2="111.5" y2="618.7" stroke="#000" stroke-width="1"/>
<line x1="115.5" y1="605.5" x2="115.5" y2="607.3" stroke="#000" stroke-width="1"/>
<line x1="115.5" y1="620.5" x2="115.5" y2="618.7" stroke="#000" stroke-width="1"/>
<line x1="119.5" y1="605.5" x2="119.5" y2="607.3" stroke="#000" stroke-width="1"/>
<line x1="119.5" y1="620.5" x2="119.5" y2="618.7" stroke="#000" stroke-width="1"/>
<line x1="123.5" y1="605.5" x2="123.5" y2="607.3" stroke="#000" stroke-width="1"/>
<line x1="123.5" y1="620.5" x2="123.5" y2="618.7" stroke="#000" stroke-width="1"/>
<line x1="127.5" y1="605.5" x2="127.5" y2="607.3" stroke="#000" stroke-width="1"/>
<line x1="127.5" y1="620.5" x2="127.5" y2="618.7" stroke="#000" stroke-width="1"/>
<line x1="131.5" y1="605.5" x2="131.5" y2="607.3" stroke="#000" stroke-width="1"/>
<line x1="131.5" y1="620.5" x2="131.5" y2="618.7" stroke="#000" stroke-width="1"/>
<line x1="135.5" y1="605.5" x2="135.5" y2="607.3" stroke="#000" stroke-width="1"/>
<line x1="135.5" y1="620.5" x2="135.5" y2="618.7" stroke="#000" stroke-width="1"/>
<line x1="139.5" y1="605.5" x2="139.5" y2="607.3" stroke="#000" stroke-width="1"/>
<line x1="139.5" y1="620.5" x2="139.5" y2="618.7" stroke="#000" stroke-width="1"/>
<line x1="143.5" y1="605.5" x2="143.5" y2="607.3" stroke="#000" stroke-width="1"/>
<line x1="143.5" y1="620.5" x2="143.5" y2="618.7" stroke="#000" stroke-width="1"/>
<line x1="146.5" y1="605.5" x2="146.5" y2="607.3" stroke="#000" stroke-width="1"/>
<line x1="146.5" y1="620.5" x2="146.5" y2="618.7" stroke="#000" stroke-width="1"/>
<line x1="150.5" y1="605.5" x2="150.5" y2="607.3" stroke="#000" stroke-width="1"/>
<line x1="150.5" y1="620.5" x2="150.5" y2="618.7" stroke="#000" stroke-width="1"/>
<line x1="154.5" y1="605.5" x2="154.5" y2="607.3" stroke="#000" stroke-width="1"/>
<line x1="154.5" y1="620.5" x2="154.5" y2="618.7" stroke="#000" stroke-width="1"/>
<line x1="158.5" y1="605.5" x2="158.5" y2="607.3" stroke="#000" stroke-width="1"/>
<line x1="158.5" y1="620.5" x2="158.5" y2="618.7" stroke="#000" stroke-width="1"/>
<line x1="162.5" y1="605.5" x2="162.5" y2="607.3" stroke="#000" stroke-width="1"/>
<line x1="162.5" y1="620.5" x2="162.5" y2="618.7" stroke="#000" stroke-width="1"/>
<line x1="166.5" y1="605.5" x2="166.5" y2="607.3" stroke="#000" stroke-width="1"/>
<line x1="166.5" y1="620.5" x2="166.5" y2="618.7" stroke="#000" stroke-width="1"/>
<line x1="170.5" y1="605.5" x2="170.5" y2="607.3" stroke="#000" stroke-width="1"/>
<line x1="170.5" y1="620.5" x2="170.5" y2="618.7" stroke="#000" stroke-width="1"/>
<line x1="174.5" y1="605.5" x2="174.5" y2="607.3" stroke="#000" stroke-width="1"/>
<line x1="174.5" y1="620.5" x2="174.5" y2="618.7" stroke="#000" stroke-width="1"/>
<line x1="177.5" y1="605.5" x2="177.5" y2="607.3" stroke="#000" stroke-width="1"/>
<line x1="177.5" y1="620.5" x2="177.5" y2="618.7" stroke="#000" stroke-width="1"/>
<line x1="181.5" y1="605.5" x2="181.5" y2="607.3" stroke="#000" stroke-width="1"/>
<line x1="181.5" y1="620.5" x2="181.5" y2="618.7" stroke="#000" stroke-width="1"/>
<line x1="185.5" y1="605.5" x2="185.5" y2="607.3" stroke="#000" stroke-width="1"/>
<line x1="185.5" y1="620.5" x2="185.5" y2="618.7" stroke="#000" stroke-width="1"/>
<line x1="189.5" y1="605.5" x2="189.5" y2="607.3" stroke="#000" stroke-width="1"/>
<line x1="189.5" y1="620.5" x2="189.5" y2="618.7" stroke="#000" stroke-width="1"/>
<line x1="193.5" y1="605.5" x2="193.5" y2="607.3" stroke="#000" stroke-width="1"/>
<line x1="193.5" y1="620.5" x2="193.5" y2="618.7" stroke="#000" stroke-width="1"/>
<line x1="197.5" y1="605.5" x2="197.5" y2="607.3" stroke="#000" stroke-width="1"/>
<line x1="197.5" y1="620.5" x2="197.5" y2="618.7" stroke="#000" stroke-width="1"/>
<line x1="201.5" y1="605.5" x2="201.5" y2="607.3" stroke="#000" stroke-width="1"/>
<line x1="201.5" y1="620.5" x2="201.5" y2="618.7" stroke="#000" stroke-width="1"/>
<line x1="205.5" y1="605.5" x2="205.5" y2="607.3" stroke="#000" stroke-width="1"/>
<line x1="205.5" y1="620.5" x2="205.5" y2="618.7" stroke="#000" stroke-width="1"/>
<line x1="209.5" y1="605.5" x2="209.5" y2="607.3" stroke="#000" stroke-width="1"/>
<line x1="209.5" y1="620.5" x2="209.5" y2="618.7" stroke="#000" stroke-width="1"/>
<line x1="212.5" y1="605.5" x2="212.5" y2="607.3" stroke="#000" stroke-width="1"/>
<line x1="212.5" y1="620.5" x2="212.5" y2="618.7" stroke="#000" stroke-width="1"/>
<line x1="216.5" y1="605.5" x2="216.5" y2="607.3" stroke="#000" stroke-width="1"/>
<line x1="216.5" y1="620.5" x2="216.5" y2="618.7" stroke="#000" stroke-width="1"/>
<line x1="220.5" y1="605.5" x2="220.5" y2="607.3" stroke="#000" stroke-width="1"/>
<line x1="220.5" y1="620.5" x2="220.5" y2="618.7" stroke="#000" stroke-width="1"/>
<line x1="224.5" y1="605.5" x2="224.5" y2="607.3" stroke="#000" stroke-width="1"/>
<line x1="224.5" y1="620.5" x2="224.5" y2="618.7" stroke="#000" stroke-width="1"/>
<line x1="228.5" y1="605.5" x2="228.5" y2="607.3" stroke="#000" stroke-width="1"/>
<line x1="228.5" y1="620.5" x2="228.5" y2="618.7" stroke="#000" stroke-width="1"/>
<line x1="232.5" y1="605.5" x2="232.5" y2="607.3" stroke="#000" stroke-width="1"/>
<line x1="232.5" y1="620.5" x2="232.5" y2="618.7" stroke="#000" stroke-width="1"/>
<line x1="236.5" y1="605.5" x2="236.5" y2="607.3" stroke="#000" stroke-width="1"/>
<line x1="236.5" y1="620.5" x2="236.5" y2="618.7" stroke="#000" stroke-width="1"/>
<line x1="240.5" y1="605.5" x2="240.5" y2="607.3" stroke="#000" stroke-width="1"/>
<line x1="240.5" y1="620.5" x2="240.5" y2="618.7" stroke="#000" stroke-width="1"/>
<line x1="244.5" y1="605.5" x2="244.5" y2="607.3" stroke="#000" stroke-width="1"/>
<line x1="244.5" y1="620.5" x2="244.5" y2="618.7" stroke="#000" stroke-width="1"/>
<line x1="247.5" y1="605.5" x2="247.5" y2="607.3" stroke="#000" stroke-width="1"/>
<line x1="247.5" y1="620.5" x2="247.5" y2="618.7" stroke="#000" stroke-width="1"/>
<line x1="251.5" y1="605.5" x2="251.5" y2="607.3" stroke="#000" stroke-width="1"/>
<line x1="251.5" y1="620.5" x2="251.5" y2="618.7" stroke="#000" stroke-width="1"/>
<line x1="255.5" y1="605.5" x2="255.5" y2="607.3" stroke="#000" stroke-width="1"/>
<line x1="255.5" y1="620.5" x2="255.5" y2="618.7" stroke="#000" stroke-width="1"/>
<line x1="259.5" y1="605.5" x2="259.5" y2="607.3" stroke="#000" stroke-width="1"/>
<line x1="259.5" y1="620.5" x2="259.5" y2="618.7" stroke="#000" stroke-width="1"/>
<line x1="263.5" y1="605.5" x2="263.5" y2="607.3" stroke="#000" stroke-width="1"/>
<line x1="263.5" y1="620.5" x2="263.5" y2="618.7" stroke="#000" stroke-width="1"/>
<line x1="267.5" y1="605.5" x2="267.5" y2="607.3" stroke="#000" stroke-width="1"/>
<line x1="267.5" y1="620.5" x2="267.5" y2="618.7" stroke="#000" stroke-width="1"/>
<line x1="271.5" y1="605.5" x2="271.5" y2="607.3" stroke="#000" stroke-width="1"/>
<line x1="271.5" y1="620.5" x2="271.5" y2="618.7" stroke="#000" stroke-width="1"/>
<line x1="275.5" y1="605.5" x2="275.5" y2="607.3" stroke="#000" stroke-width="1"/>
<line x1="275.5" y1="620.5" x2="275.5" y2="618.7" stroke="#000" stroke-width="1"/>
<line x1="278.5" y1="605.5" x2="278.5" y2="607.3" stroke="#000" stroke-width="1"/>
<line x1="278.5" y1="620.5" x2="278.5" y2="618.7" stroke="#000" stroke-width="1"/>
<line x1="282.5" y1="605.5" x2="282.5" y2="607.3" stroke="#000" stroke-width="1"/>
<line x1="282.5" y1="620.5" x2="282.5" y2="618.7" stroke="#000" stroke-width="1"/>
<line x1="286.5" y1="605.5" x2="286.5" y2="607.3" stroke="#000" stroke-width="1"/>
<line x1="286.5" y1="620.5" x2="286.5" y2="618.7" stroke="#000" stroke-width="1"/>
<line x1="290.5" y1="605.5" x2="290.5" y2="607.3" stroke="#000" stroke-width="1"/>
<line x1="290.5" y1="620.5" x2="290.5" y2="618.7" stroke="#000" stroke-width="1"/>
<line x1="294.5" y1="605.5" x2="294.5" y2="607.3" stroke="#000" stroke-width="1"/>
<line x1="294.5" y1="620.5" x2="294.5" y2="618.7" stroke="#000" stroke-width="1"/>
<line x1="298.5" y1="605.5" x2="298.5" y2="607.3" stroke="#000" stroke-width="1"/>
<line x1="298.5" y1="620.5" x2="298.5" y2="618.7" stroke="#000" stroke-width="1"/>
<line x1="302.5" y1="605.5" x2="302.5" y2="607.3" stroke="#000" stroke-width="1"/>
<line x1="302.5" y1="620.5" x2="302.5" y2="618.7" stroke="#000" stroke-width="1"/>
<line x1="306.5" y1="605.5" x2="306.5" y2="607.3" stroke="#000" stroke-width="1"/>
<line x1="306.5" y1="620.5" x2="306.5" y2="618.7" stroke="#000" stroke-width="1"/>
<line x1="310.5" y1="605.5" x2="310.5" y2="607.3" stroke="#000" stroke-width="1"/>
<line x1="310.5" y1="620.5" x2="310.5" y2="618.7" stroke="#000" stroke-width="1"/>
<line x1="313.5" y1="605.5" x2="313.5" y2="607.3" stroke="#000" stroke-width="1"/>
<line x1="313.5" y1="620.5" x2="313.5" y2="618.7" stroke="#000" stroke-width="1"/>
<line x1="317.5" y1="605.5" x2="317.5" y2="607.3" stroke="#000" stroke-width="1"/>
<line x1="317.5" y1="620.5" x2="317.5" y2="618.7" stroke="#000" stroke-width="1"/>
<line x1="321.5" y1="605.5" x2="321.5" y2="607.3" stroke="#000" stroke-width="1"/>
<line x1="321.5" y1="620.5" x2="321.5" y2="618.7" stroke="#000" stroke-width="1"/>
<line x1="325.5" y1="605.5" x2="325.5" y2="607.3" stroke="#000" stroke-width="1"/>
<line x1="325.5" y1="620.5" x2="325.5" y2="618.7" stroke="#000" stroke-width="1"/>
<line x1="329.5" y1="605.5" x2="329.5" y2="607.3" stroke="#000" stroke-width="1"/>
<line x1="329.5" y1="620.5" x2="329.5" y2="618.7" stroke="#000" stroke-width="1"/>
<line x1="333.5" y1="605.5" x2="333.5" y2="607.3" stroke="#000" stroke-width="1"/>
<line x1="333.5" y1="620.5" x2="333.5" y2="618.7" stroke="#000" stroke-width="1"/>
<line x1="337.5" y1="605.5" x2="337.5" y2="607.3" stroke="#000" stroke-width="1"/>
<line x1="337.5" y1="620.5" x2="337.5" y2="618.7" stroke="#000" stroke-width="1"/>
<line x1="341.5" y1="605.5" x2="341.5" y2="607.3" stroke="#000" stroke-width="1"/>
<line x1="341.5" y1="620.5" x2="341.5" y2="618.7" stroke="#000" stroke-width="1"/>
<line x1="345.5" y1="605.5" x2="345.5" y2="607.3" stroke="#000" stroke-width="1"/>
<line x1="345.5" y1="620.5" x2="345.5" y2="618.7" stroke="#000" stroke-width="1"/>
<line x1="348.5" y1="605.5" x2="348.5" y2="607.3" stroke="#000" stroke-width="1"/>
<line x1="348.5" y1="620.5" x2="348.5" y2="618.7" stroke="#000" stroke-width="1"/>
<line x1="352.5" y1="605.5" x2="352.5" y2="607.3" stroke="#000" stroke-width="1"/>
<line x1="352.5" y1="620.5" x2="352.5" y2="618.7" stroke="#000" stroke-width="1"/>
<line x1="356.5" y1="605.5" x2="356.5" y2="607.3" stroke="#000" stroke-width="1"/>
<line x1="356.5" y1="620.5" x2="356.5" y2="618.7" stroke="#000" stroke-width="1"/>
<line x1="360.5" y1="605.5" x2="360.5" y2="607.3" stroke="#000" stroke-width="1"/>
<line x1="360.5" y1="620.5" x2="360.5" y2="618.7" stroke="#000" stroke-width="1"/>
<line x1="364.5" y1="605.5" x2="364.5" y2="607.3" stroke="#000" stroke-width="1"/>
<line x1="364.5" y1="620.5" x2="364.5" y2="618.7" stroke="#000" stroke-width="1"/>
<line x1="368.5" y1="605.5" x2="368.5" y2="607.3" stroke="#000" stroke-width="1"/>
<line x1="368.5" y1="620.5" x2="368.5" y2="618.7" stroke="#000" stroke-width="1"/>
<line x1="372.5" y1="605.5" x2="372.5" y2="607.3" stroke="#000" stroke-width="1"/>
<line x1="372.5" y1="620.5" x2="372.5" y2="618.7" stroke="#000" stroke-width="1"/>
<line x1="376.5" y1="605.5" x2="376.5" y2="607.3" stroke="#000" stroke-width="1"/>
<line x1="376.5" y1="620.5" x2="376.5" y2="618.7" stroke="#000" stroke-width="1"/>
<line x1="380.5" y1="605.5" x2="380.5" y2="607.3" stroke="#000" stroke-width="1"/>
<line x1="380.5" y1="620.5" x2="380.5" y2="618.7" stroke="#000" stroke-width="1"/>
<line x1="383.5" y1="605.5" x2="383.5" y2="607.3" stroke="#000" stroke-width="1"/>
<line x1="383.5" y1="620.5" x2="383.5" y2="618.7" stroke="#000" stroke-width="1"/>
<line x1="387.5" y1="605.5" x2="387.5" y2="607.3" stroke="#000" stroke-width="1"/>
<line x1="387.5" y1="620.5" x2="387.5" y2="618.7" stroke="#000" stroke-width="1"/>
<line x1="391.5" y1="605.5" x2="391.5" y2="607.3" stroke="#000" stroke-width="1"/>
<line x1="391.5" y1="620.5" x2="391.5" y2="618.7" stroke="#000" stroke-width="1"/>
<line x1="395.5" y1="605.5" x2="395.5" y2="607.3" stroke="#000" stroke-width="1"/>
<line x1="395.5" y1="620.5" x2="395.5" y2="618.7" stroke="#000" stroke-width="1"/>
<line x1="399.5" y1="605.5" x2="399.5" y2="607.3" stroke="#000" stroke-width="1"/>
<line x1="399.5" y1="620.5" x2="399.5" y2="618.7" stroke="#000" stroke-width="1"/>
<line x1="403.5" y1="605.5" x2="403.5" y2="607.3" stroke="#000" stroke-width="1"/>
<line x1="403.5" y1="620.5" x2="403.5" y2="618.7" stroke="#000" stroke-width="1"/>
<line x1="407.5" y1="605.5" x2="407.5" y2="607.3" stroke="#000" stroke-width="1"/>
<line x1="407.5" y1="620.5" x2="407.5" y2="618.7" stroke="#000" stroke-width="1"/>
<line x1="411.5" y1="605.5" x2="411.5" y2="607.3" stroke="#000" stroke-width="1"/>
<line x1="411.5" y1="620.5" x2="411.5" y2="618.7" stroke="#000" stroke-width="1"/>
<line x1="414.5" y1="605.5" x2="414.5" y2="607.3" stroke="#000" stroke-width="1"/>
<line x1="414.5" y1="620.5" x2="414.5" y2="618.7" stroke="#000" stroke-width="1"/>
<line x1="418.5" y1="605.5" x2="418.5" y2="607.3" stroke="#000" stroke-width="1"/>
<line x1="418.5" y1="620.5" x2="418.5" y2="618.7" stroke="#000" stroke-width="1"/>
<line x1="422.5" y1="605.5" x2="422.5" y2="607.3" stroke="#000" stroke-width="1"/>
<line x1="422.5" y1="620.5" x2="422.5" y2="618.7" stroke="#000" stroke-width="1"/>
<line x1="426.5" y1="605.5" x2="426.5" y2="607.3" stroke="#000" stroke-width="1"/>
<line x1="426.5" y1="620.5" x2="426.5" y2="618.7" stroke="#000" stroke-width="1"/>
<line x1="430.5" y1="605.5" x2="430.5" y2="607.3" stroke="#000" stroke-width="1"/>
<line x1="430.5" y1="620.5" x2="430.5" y2="618.7" stroke="#000" stroke-width="1"/>
<line x1="434.5" y1="605.5" x2="434.5" y2="607.3" stroke="#000" stroke-width="1"/>
<line x1="434.5" y1="620.5" x2="434.5" y2="618.7" stroke="#000" stroke-width="1"/>
<line x1="438.5" y1="605.5" x2="438.5" y2="607.3" stroke="#000" stroke-width="1"/>
<line x1="438.5" y1="620.5" x2="438.5" y2="618.7" stroke="#000" stroke-width="1"/>
<line x1="442.5" y1="605.5" x2="442.5" y2="607.3" stroke="#000" stroke-width="1"/>
<line x1="442.5" y1="620.5" x2="442.5" y2="618.7" stroke="#000" stroke-width="1"/>
<line x1="446.5" y1="605.5" x2="446.5" y2="607.3" stroke="#000" stroke-width="1"/>
<line x1="446.5" y1="620.5" x2="446.5" y2="618.7" stroke="#000" stroke-width="1"/>
<line x1="449.5" y1="605.5" x2="449.5" y2="607.3" stroke="#000" stroke-width="1"/>
<line x1="449.5" y1="620.5" x2="449.5" y2="618.7" stroke="#000" stroke-width="1"/>
<line x1="453.5" y1="605.5" x2="453.5" y2="607.3" stroke="#000" stroke-width="1"/>
<line x1="453.5" y1="620.5" x2="453.5" y2="618.7" stroke="#000" stroke-width="1"/>
<line x1="457.5" y1="605.5" x2="457.5" y2="607.3" stroke="#000" stroke-width="1"/>
<line x1="457.5" y1="620.5" x2="457.5" y2="618.7" stroke="#000" stroke-width="1"/>
<line x1="461.5" y1="605.5" x2="461.5" y2="607.3" stroke="#000" stroke-width="1"/>
<line x1="461.5" y1="620.5" x2="461.5" y2="618.7" stroke="#000" stroke-width="1"/>
<line x1="465.5" y1="605.5" x2="465.5" y2="607.3" stroke="#000" stroke-width="1"/>
<line x1="465.5" y1="620.5" x2="465.5" y2="618.7" stroke="#000" stroke-width="1"/>
<line x1="469.5" y1="605.5" x2="469.5" y2="607.3" stroke="#000" stroke-width="1"/>
<line x1="469.5" y1="620.5" x2="469.5" y2="618.7" stroke="#000" stroke-width="1"/>
<line x1="473.5" y1="605.5" x2="473.5" y2="607.3" stroke="#000" stroke-width="1"/>
<line x1="473.5" y1="620.5" x2="473.5" y2="618.7" stroke="#000" stroke-width="1"/>
<line x1="477.5" y1="605.5" x2="477.5" y2="607.3" stroke="#000" stroke-width="1"/>
<line x1="477.5" y1="620.5" x2="477.5" y2="618.7" stroke="#000" stroke-width="1"/>
<line x1="481.5" y1="605.5" x2="481.5" y2="607.3" stroke="#000" stroke-width="1"/>
<line x1="481.5" y1="620.5" x2="481.5" y2="618.7" stroke="#000" stroke-width="1"/>
<line x1="484.5" y1="605.5" x2="484.5" y2="607.3" stroke="#000" stroke-width="1"/>
<line x1="484.5" y1="620.5" x2="484.5" y2="618.7" stroke="#000" stroke-width="1"/>
<line x1="488.5" y1="605.5" x2="488.5" y2="607.3" stroke="#000" stroke-width="1"/>
<line x1="488.5" y1="620.5" x2="488.5" y2="618.7" stroke="#000" stroke-width="1"/>
<line x1="492.5" y1="605.5" x2="492.5" y2="607.3" stroke="#000" stroke-width="1"/>
<line x1="492.5" y1="620.5" x2="492.5" y2="618.7" stroke="#000" stroke-width="1"/>
<line x1="496.5" y1="605.5" x2="496.5" y2="607.3" stroke="#000" stroke-width="1"/>
<line x1="496.5" y1="620.5" x2="496.5" y2="618.7" stroke="#000" stroke-width="1"/>
<line x1="500.5" y1="605.5" x2="500.5" y2="607.3" stroke="#000" stroke-width="1"/>
<line x1="500.5" y1="620.5" x2="500.5" y2="618.7" stroke="#000" stroke-width="1"/>
<line x1="504.5" y1="605.5" x2="504.5" y2="607.3" stroke="#000" stroke-width="1"/>
<line x1="504.5" y1="620.5" x2="504.5" y2="618.7" stroke="#000" stroke-width="1"/>
<line x1="508.5" y1="605.5" x2="508.5" y2="607.3" stroke="#000" stroke-width="1"/>
<line x1="508.5" y1="620.5" x2="508.5" y2="618.7" stroke="#000" stroke-width="1"/>
<line x1="512.5" y1="605.5" x2="512.5" y2="607.3" stroke="#000" stroke-width="1"/>
<line x1="512.5" y1="620.5" x2="512.5" y2="618.7" stroke="#000" stroke-width="1"/>
<line x1="515.5" y1="605.5" x2="515.5" y2="607.3" stroke="#000" stroke-width="1"/>
<line x1="515.5" y1="620.5" x2="515.5" y2="618.7" stroke="#000" stroke-width="1"/>
<line x1="519.5" y1="605.5" x2="519.5" y2="607.3" stroke="#000" stroke-width="1"/>
<line x1="519.5" y1="620.5" x2="519.5" y2="618.7" stroke="#000" stroke-width="1"/>
<line x1="523.5" y1="605.5" x2="523.5" y2="607.3" stroke="#000" stroke-width="1"/>
<line x1="523.5" y1="620.5" x2="523.5" y2="618.7" stroke="#000" stroke-width="1"/>
<line x1="527.5" y1="605.5" x2="527.5" y2="607.3" stroke="#000" stroke-width="1"/>
<line x1="527.5" y1="620.5" x2="527.5" y2="618.7" stroke="#000" stroke-width="1"/>
<line x1="531.5" y1="605.5" x2="531.5" y2="607.3" stroke="#000" stroke-width="1"/>
<line x1="531.5" y1="620.5" x2="531.5" y2="618.7" stroke="#000" stroke-width="1"/>
<line x1="535.5" y1="605.5" x2="535.5" y2="607.3" stroke="#000" stroke-width="1"/>
<line x1="535.5" y1="620.5" x2="535.5" y2="618.7" stroke="#000" stroke-width="1"/>
<line x1="539.5" y1="605.5" x2="539.5" y2="607.3" stroke="#000" stroke-width="1"/>
<line x1="539.5" y1="620.5" x2="539.5" y2="618.7" stroke="#000" stroke-width="1"/>
<line x1="543.5" y1="605.5" x2="543.5" y2="607.3" stroke="#000" stroke-width="1"/>
<line x1="543.5" y1="620.5" x2="543.5" y2="618.7" stroke="#000" stroke-width="1"/>
<line x1="547.5" y1="605.5" x2="547.5" y2="607.3" stroke="#000" stroke-width="1"/>
<line x1="547.5" y1="620.5" x2="547.5" y2="618.7" stroke="#000" stroke-width="1"/>
<line x1="550.5" y1="605.5" x2="550.5" y2="607.3" stroke="#000" stroke-width="1"/>
<line x1="550.5" y1="620.5" x2="550.5" y2="618.7" stroke="#000" stroke-width="1"/>
<line x1="554.5" y1="605.5" x2="554.5" y2="607.3" stroke="#000" stroke-width="1"/>
<line x1="554.5" y1="620.5" x2="554.5" y2="618.7" stroke="#000" stroke-width="1"/>
<line x1="558.5" y1="605.5" x2="558.5" y2="607.3" stroke="#000" stroke-width="1"/>
<line x1="558.5" y1="620.5" x2="558.5" y2="618.7" stroke="#000" stroke-width="1"/>
<line x1="562.5" y1="605.5" x2="562.5" y2="607.3" stroke="#000" stroke-width="1"/>
<line x1="562.5" y1="620.5" x2="562.5" y2="618.7" stroke="#000" stroke-width="1"/>
<line x1="566.5" y1="605.5" x2="566.5" y2="607.3" stroke="#000" stroke-width="1"/>
<line x1="566.5" y1="620.5" x2="566.5" y2="618.7" stroke="#000" stroke-width="1"/>
<line x1="570.5" y1="605.5" x2="570.5" y2="607.3" stroke="#000" stroke-width="1"/>
<line x1="570.5" y1="620.5" x2="570.5" y2="618.7" stroke="#000" stroke-width="1"/>
<line x1="574.5" y1="605.5" x2="574.5" y2="607.3" stroke="#000" stroke-width="1"/>
<line x1="574.5" y1="620.5" x2="574.5" y2="618.7" stroke="#000" stroke-width="1"/>
<line x1="578.5" y1="605.5" x2="578.5" y2="607.3" stroke="#000" stroke-width="1"/>
<line x1="578.5" y1="620.5" x2="578.5" y2="618.7" stroke="#000" stroke-width="1"/>
<line x1="18.5" y1="864.5" x2="18.5" y2="866.3" stroke="#000" stroke-width="1"/>
<line x1="22.5" y1="864.5" x2="22.5" y2="866.3" stroke="#000" stroke-width="1"/>
<line x1="26.5" y1="864.5" x2="26.5" y2="866.3" stroke="#000" stroke-width="1"/>
<line x1="30.5" y1="864.5" x2="30.5" y2="866.3" stroke="#000" stroke-width="1"/>
<line x1="34.5" y1="864.5" x2="34.5" y2="866.3" stroke="#000" stroke-width="1"/>
<line x1="38.5" y1="864.5" x2="38.5" y2="866.3" stroke="#000" stroke-width="1"/>
<line x1="42.5" y1="864.5" x2="42.5" y2="866.3" stroke="#000" stroke-width="1"/>
<line x1="45.5" y1="864.5" x2="45.5" y2="866.3" stroke="#000" stroke-width="1"/>
<line x1="49.5" y1="864.5" x2="49.5" y2="866.3" stroke="#000" stroke-width="1"/>
<line x1="53.5" y1="864.5" x2="53.5" y2="866.3" stroke="#000" stroke-width="1"/>
<line x1="57.5" y1="864.5" x2="57.5" y2="866.3" stroke="#000" stroke-width="1"/>
<line x1="61.5" y1="864.5" x2="61.5" y2="866.3" stroke="#000" stroke-width="1"/>
<line x1="65.5" y1="864.5" x2="65.5" y2="866.3" stroke="#000" stroke-width="1"/>
<line x1="69.5" y1="864.5" x2="69.5" y2="866.3" stroke="#000" stroke-width="1"/>
<line x1="73.5" y1="864.5" x2="73.5" y2="866.3" stroke="#000" stroke-width="1"/>
<line x1="76.5" y1="864.5" x2="76.5" y2="866.3" stroke="#000" stroke-width="1"/>
<line x1="80.5" y1="864.5" x2="80.5" y2="866.3" stroke="#000" stroke-width="1"/>
<line x1="84.5" y1="864.5" x2="84.5" y2="866.3" stroke="#000" stroke-width="1"/>
<line x1="88.5" y1="864.5" x2="88.5" y2="866.3" stroke="#000" stroke-width="1"/>
<line x1="92.5" y1="864.5" x2="92.5" y2="866.3" stroke="#000" stroke-width="1"/>
<line x1="96.5" y1="864.5" x2="96.5" y2="866.3" stroke="#000" stroke-width="1"/>
<line x1="100.5" y1="864.5" x2="100.5" y2="866.3" stroke="#000" stroke-width="1"/>
<line x1="104.5" y1="864.5" x2="104.5" y2="866.3" stroke="#000" stroke-width="1"/>
<line x1="108.5" y1="864.5" x2="108.5" y2="866.3" stroke="#000" stroke-width="1"/>
<line x1="111.5" y1="864.5" x2="111.5" y2="866.3" stroke="#000" stroke-width="1"/>
<line x1="115.5" y1="864.5" x2="115.5" y2="866.3" stroke="#000" stroke-width="1"/>
<line x1="119.5" y1="864.5" x2="119.5" y2="866.3" stroke="#000" stroke-width="1"/>
<line x1="123.5" y1="864.5" x2="123.5" y2="866.3" stroke="#000" stroke-width="1"/>
<line x1="127.5" y1="864.5" x2="127.5" y2="866.3" stroke="#000" stroke-width="1"/>
<line x1="131.5" y1="864.5" x2="131.5" y2="866.3" stroke="#000" stroke-width="1"/>
<line x1="135.5" y1="864.5" x2="135.5" y2="866.3" stroke="#000" stroke-width="1"/>
<line x1="139.5" y1="864.5" x2="139.5" y2="866.3" stroke="#000" stroke-width="1"/>
<line x1="143.5" y1="864.5" x2="143.5" y2="866.3" stroke="#000" stroke-width="1"/>
<line x1="146.5" y1="864.5" x2="146.5" y2="866.3" stroke="#000" stroke-width="1"/>
<line x1="150.5" y1="864.5" x2="150.5" y2="866.3" stroke="#000" stroke-width="1"/>
<line x1="154.5" y1="864.5" x2="154.5" y2="866.3" stroke="#000" stroke-width="1"/>
<line x1="158.5" y1="864.5" x2="158.5" y2="866.3" stroke="#000" stroke-width="1"/>
<line x1="162.5" y1="864.5" x2="162.5" y2="866.3" stroke="#000" stroke-width="1"/>
<line x1="166.5" y1="864.5" x2="166.5" y2="866.3" stroke="#000" stroke-width="1"/>
<line x1="170.5" y1="864.5" x2="170.5" y2="866.3" stroke="#000" stroke-width="1"/>
<line x1="174.5" y1="864.5" x2="174.5" y2="866.3" stroke="#000" stroke-width="1"/>
<line x1="177.5" y1="864.5" x2="177.5" y2="866.3" stroke="#000" stroke-width="1"/>
<line x1="181.5" y1="864.5" x2="181.5" y2="866.3" stroke="#000" stroke-width="1"/>
<line x1="185.5" y1="864.5" x2="185.5" y2="866.3" stroke="#000" stroke-width="1"/>
<line x1="189.5" y1="864.5" x2="189.5" y2="866.3" stroke="#000" stroke-width="1"/>
<line x1="193.5" y1="864.5" x2="193.5" y2="866.3" stroke="#000" stroke-width="1"/>
<line x1="197.5" y1="864.5" x2="197.5" y2="866.3" stroke="#000" stroke-width="1"/>
<line x1="201.5" y1="864.5" x2="201.5" y2="866.3" stroke="#000" stroke-width="1"/>
<line x1="205.5" y1="864.5" x2="205.5" y2="866.3" stroke="#000" stroke-width="1"/>
<line x1="209.5" y1="864.5" x2="209.5" y2="866.3" stroke="#000" stroke-width="1"/>
<line x1="212.5" y1="864.5" x2="212.5" y2="866.3" stroke="#000" stroke-width="1"/>
<line x1="216.5" y1="864.5" x2="216.5" y2="866.3" stroke="#000" stroke-width="1"/>
<line x1="220.5" y1="864.5" x2="220.5" y2="866.3" stroke="#000" stroke-width="1"/>
<line x1="224.5" y1="864.5" x2="224.5" y2="866.3" stroke="#000" stroke-width="1"/>
<line x1="228.5" y1="864.5" x2="228.5" y2="866.3" stroke="#000" stroke-width="1"/>
<line x1="232.5" y1="864.5" x2="232.5" y2="866.3" stroke="#000" stroke-width="1"/>
<line x1="236.5" y1="864.5" x2="236.5" y2="866.3" stroke="#000" stroke-width="1"/>
<line x1="240.5" y1="864.5" x2="240.5" y2="866.3" stroke="#000" stroke-width="1"/>
<line x1="244.5" y1="864.5" x2="244.5" y2="866.3" stroke="#000" stroke-width="1"/>
<line x1="247.5" y1="864.5" x2="247.5" y2="866.3" stroke="#000" stroke-width="1"/>
<line x1="251.5" y1="864.5" x2="251.5" y2="866.3" stroke="#000" stroke-width="1"/>
<line x1="255.5" y1="864.5" x2="255.5" y2="866.3" stroke="#000" stroke-width="1"/>
<line x1="259.5" y1="864.5" x2="259.5" y2="866.3" stroke="#000" stroke-width="1"/>
<line x1="263.5" y1="864.5" x2="263.5" y2="866.3" stroke="#000" stroke-width="1"/>
<line x1="267.5" y1="864.5" x2="267.5" y2="866.3" stroke="#000" stroke-width="1"/>
<line x1="271.5" y1="864.5" x2="271.5" y2="866.3" stroke="#000" stroke-width="1"/>
<line x1="275.5" y1="864.5" x2="275.5" y2="866.3" stroke="#000" stroke-width="1"/>
<line x1="278.5" y1="864.5" x2="278.5" y2="866.3" stroke="#000" stroke-width="1"/>
<line x1="282.5" y1="864.5" x2="282.5" y2="866.3" stroke="#000" stroke-width="1"/>
<line x1="286.5" y1="864.5" x2="286.5" y2="866.3" stroke="#000" stroke-width="1"/>
<line x1="290.5" y1="864.5" x2="290.5" y2="866.3" stroke="#000" stroke-width="1"/>
<line x1="294.5" y1="864.5" x2="294.5" y2="866.3" stroke="#000" stroke-width="1"/>
<line x1="298.5" y1="864.5" x2="298.5" y2="866.3" stroke="#000" stroke-width="1"/>
<line x1="302.5" y1="864.5" x2="302.5" y2="866.3" stroke="#000" stroke-width="1"/>
<line x1="306.5" y1="864.5" x2="306.5" y2="866.3" stroke="#000" stroke-width="1"/>
<line x1="310.5" y1="864.5" x2="310.5" y2="866.3" stroke="#000" stroke-width="1"/>
<line x1="313.5" y1="864.5" x2="313.5" y2="866.3" stroke="#000" stroke-width="1"/>
<line x1="317.5" y1="864.5" x2="317.5" y2="866.3" stroke="#000" stroke-width="1"/>
<line x1="321.5" y1="864.5" x2="321.5" y2="866.3" stroke="#000" stroke-width="1"/>
<line x1="325.5" y1="864.5" x2="325.5" y2="866.3" stroke="#000" stroke-width="1"/>
<line x1="329.5" y1="864.5" x2="329.5" y2="866.3" stroke="#000" stroke-width="1"/>
<line x1="333.5" y1="864.5" x2="333.5" y2="866.3" stroke="#000" stroke-width="1"/>
<line x1="337.5" y1="864.5" x2="337.5" y2="866.3" stroke="#000" stroke-width="1"/>
<line x1="341.5" y1="864.5" x2="341.5" y2="866.3" stroke="#000" stroke-width="1"/>
<line x1="345.5" y1="864.5" x2="345.5" y2="866.3" stroke="#000" stroke-width="1"/>
<line x1="348.5" y1="864.5" x2="348.5" y2="866.3" stroke="#000" stroke-width="1"/>
<line x1="352.5" y1="864.5" x2="352.5" y2="866.3" stroke="#000" stroke-width="1"/>
<line x1="356.5" y1="864.5" x2="356.5" y2="866.3" stroke="#000" stroke-width="1"/>
<line x1="360.5" y1="864.5" x2="360.5" y2="866.3" stroke="#000" stroke-width="1"/>
<line x1="364.5" y1="864.5" x2="364.5" y2="866.3" stroke="#000" stroke-width="1"/>
<line x1="368.5" y1="864.5" x2="368.5" y2="866.3" stroke="#000" stroke-width="1"/>
<line x1="372.5" y1="864.5" x2="372.5" y2="866.3" stroke="#000" stroke-width="1"/>
<line x1="376.5" y1="864.5" x2="376.5" y2="866.3" stroke="#000" stroke-width="1"/>
<line x1="380.5" y1="864.5" x2="380.5" y2="866.3" stroke="#000" stroke-width="1"/>
<line x1="383.5" y1="864.5" x2="383.5" y2="866.3" stroke="#000" stroke-width="1"/>
<line x1="387.5" y1="864.5" x2="387.5" y2="866.3" stroke="#000" stroke-width="1"/>
<line x1="391.5" y1="864.5" x2="391.5" y2="866.3" stroke="#000" stroke-width="1"/>
<line x1="395.5" y1="864.5" x2="395.5" y2="866.3" stroke="#000" stroke-width="1"/>
<line x1="399.5" y1="864.5" x2="399.5" y2="866.3" stroke="#000" stroke-width="1"/>
<line x1="403.5" y1="864.5" x2="403.5" y2="866.3" stroke="#000" stroke-width="1"/>
<line x1="407.5" y1="864.5" x2="407.5" y2="866.3" stroke="#000" stroke-width="1"/>
<line x1="411.5" y1="864.5" x2="411.5" y2="866.3" stroke="#000" stroke-width="1"/>
<line x1="414.5" y1="864.5" x2="414.5" y2="866.3" stroke="#000" stroke-width="1"/>
<line x1="418.5" y1="864.5" x2="418.5" y2="866.3" stroke="#000" stroke-width="1"/>
<line x1="422.5" y1="864.5" x2="422.5" y2="866.3" stroke="#000" stroke-width="1"/>
<line x1="426.5" y1="864.5" x2="426.5" y2="866.3" stroke="#000" stroke-width="1"/>
<line x1="430.5" y1="864.5" x2="430.5" y2="866.3" stroke="#000" stroke-width="1"/>
<line x1="434.5" y1="864.5" x2="434.5" y2="866.3" stroke="#000" stroke-width="1"/>
<line x1="438.5" y1="864.5" x2="438.5" y2="866.3" stroke="#000" stroke-width="1"/>
<line x1="442.5" y1="864.5" x2="442.5" y2="866.3" stroke="#000" stroke-width="1"/>
<line x1="446.5" y1="864.5" x2="446.5" y2="866.3" stroke="#000" stroke-width="1"/>
<line x1="449.5" y1="864.5" x2="449.5" y2="866.3" stroke="#000" stroke-width="1"/>
<line x1="453.5" y1="864.5" x2="453.5" y2="866.3" stroke="#000" stroke-width="1"/>
<line x1="457.5" y1="864.5" x2="457.5" y2="866.3" stroke="#000" stroke-width="1"/>
<line x1="461.5" y1="864.5" x2="461.5" y2="866.3" stroke="#000" stroke-width="1"/>
<line x1="465.5" y1="864.5" x2="465.5" y2="866.3" stroke="#000" stroke-width="1"/>
<line x1="469.5" y1="864.5" x2="469.5" y2="866.3" stroke="#000" stroke-width="1"/>
<line x1="473.5" y1="864.5" x2="473.5" y2="866.3" stroke="#000" stroke-width="1"/>
<line x1="477.5" y1="864.5" x2="477.5" y2="866.3" stroke="#000" stroke-width="1"/>
<line x1="481.5" y1="864.5" x2="481.5" y2="866.3" stroke="#000" stroke-width="1"/>
<line x1="484.5" y1="864.5" x2="484.5" y2="866.3" stroke="#000" stroke-width="1"/>
<line x1="488.5" y1="864.5" x2="488.5" y2="866.3" stroke="#000" stroke-width="1"/>
<line x1="492.5" y1="864.5" x2="492.5" y2="866.3" stroke="#000" stroke-width="1"/>
<line x1="496.5" y1="864.5" x2="496.5" y2="866.3" stroke="#000" stroke-width="1"/>
<line x1="500.5" y1="864.5" x2="500.5" y2="866.3" stroke="#000" stroke-width="1"/>
<line x1="504.5" y1="864.5" x2="504.5" y2="866.3" stroke="#000" stroke-width="1"/>
<line x1="508.5" y1="864.5" x2="508.5" y2="866.3" stroke="#000" stroke-width="1"/>
<line x1="512.5" y1="864.5" x2="512.5" y2="866.3" stroke="#000" stroke-width="1"/>
<line x1="515.5" y1="864.5" x2="515.5" y2="866.3" stroke="#000" stroke-width="1"/>
<line x1="519.5" y1="864.5" x2="519.5" y2="866.3" stroke="#000" stroke-width="1"/>
<line x1="523.5" y1="864.5" x2="523.5" y2="866.3" stroke="#000" stroke-width="1"/>
<line x1="527.5" y1="864.5" x2="527.5" y2="866.3" stroke="#000" stroke-width="1"/>
<line x1="531.5" y1="864.5" x2="531.5" y2="866.3" stroke="#000" stroke-width="1"/>
<line x1="535.5" y1="864.5" x2="535.5" y2="866.3" stroke="#000" stroke-width="1"/>
<line x1="539.5" y1="864.5" x2="539.5" y2="866.3" stroke="#000" stroke-width="1"/>
<line x1="543.5" y1="864.5" x2="543.5" y2="866.3" stroke="#000" stroke-width="1"/>
<line x1="547.5" y1="864.5" x2="547.5" y2="866.3" stroke="#000" stroke-width="1"/>
<line x1="550.5" y1="864.5" x2="550.5" y2="866.3" stroke="#000" stroke-width="1"/>
<line x1="554.5" y1="864.5" x2="554.5" y2="866.3" stroke="#000" stroke-width="1"/>
<line x1="558.5" y1="864.5" x2="558.5" y2="866.3" stroke="#000" stroke-width="1"/>
<line x1="562.5" y1="864.5" x2="562.5" y2="866.3" stroke="#000" stroke-width="1"/>
<line x1="566.5" y1="864.5" x2="566.5" y2="866.3" stroke="#000" stroke-width="1"/>
<line x1="570.5" y1="864.5" x2="570.5" y2="866.3" stroke="#000" stroke-width="1"/>
<line x1="574.5" y1="864.5" x2="574.5" y2="866.3" stroke="#000" stroke-width="1"/>
<line x1="578.5" y1="864.5" x2="578.5" y2="866.3" stroke="#000" stroke-width="1"/>
<text x="18.2" y="616.5" font-size="9.6" text-anchor="middle" fill="#111" letter-spacing="0.9">May</text>
<text x="18.2" y="876.0" font-size="9.6" text-anchor="middle" fill="#111" letter-spacing="0.9">May</text>
<text x="99.8" y="616.5" font-size="9.6" text-anchor="middle" fill="#111" letter-spacing="0.9">Jun</text>
<text x="99.8" y="876.0" font-size="9.6" text-anchor="middle" fill="#111" letter-spacing="0.9">Jun</text>
<text x="181.4" y="616.5" font-size="9.6" text-anchor="middle" fill="#111" letter-spacing="0.9">Jul</text>
<text x="181.4" y="876.0" font-size="9.6" text-anchor="middle" fill="#111" letter-spacing="0.9">Jul</text>
<text x="266.8" y="616.5" font-size="9.6" text-anchor="middle" fill="#111" letter-spacing="0.9">Aug</text>
<text x="266.8" y="876.0" font-size="9.6" text-anchor="middle" fill="#111" letter-spacing="0.9">Aug</text>
<text x="348.4" y="616.5" font-size="9.6" text-anchor="middle" fill="#111" letter-spacing="0.9">Sep</text>
<text x="348.4" y="876.0" font-size="9.6" text-anchor="middle" fill="#111" letter-spacing="0.9">Sep</text>
<text x="430.0" y="616.5" font-size="9.6" text-anchor="middle" fill="#111" letter-spacing="0.9">Oct</text>
<text x="430.0" y="876.0" font-size="9.6" text-anchor="middle" fill="#111" letter-spacing="0.9">Oct</text>
<text x="519.4" y="616.5" font-size="9.6" text-anchor="middle" fill="#111" letter-spacing="0.9">Nov</text>
<text x="519.4" y="876.0" font-size="9.6" text-anchor="middle" fill="#111" letter-spacing="0.9">Nov</text>
<line x1="580.5" y1="152.5" x2="583.0" y2="152.5" stroke="#000" stroke-width="1"/>
<text x="583.8" y="155.9" font-size="9" font-family="DejaVu Sans, Verdana, sans-serif" fill="#000">90</text>
<line x1="580.5" y1="175.5" x2="583.0" y2="175.5" stroke="#000" stroke-width="1"/>
<text x="583.8" y="178.9" font-size="9" font-family="DejaVu Sans, Verdana, sans-serif" fill="#000">70</text>
<line x1="580.5" y1="196.5" x2="583.0" y2="196.5" stroke="#000" stroke-width="1"/>
<text x="583.8" y="199.9" font-size="9" font-family="DejaVu Sans, Verdana, sans-serif" fill="#000">50</text>
<line x1="580.5" y1="217.5" x2="583.0" y2="217.5" stroke="#000" stroke-width="1"/>
<text x="583.8" y="220.9" font-size="9" font-family="DejaVu Sans, Verdana, sans-serif" fill="#000">30</text>
<line x1="580.5" y1="239.5" x2="583.0" y2="239.5" stroke="#000" stroke-width="1"/>
<text x="583.8" y="242.9" font-size="9" font-family="DejaVu Sans, Verdana, sans-serif" fill="#000">10</text>
<line x1="580.5" y1="564.5" x2="583.0" y2="564.5" stroke="#000" stroke-width="1"/>
<text x="583.8" y="567.9" font-size="9" font-family="DejaVu Sans, Verdana, sans-serif" fill="#000">82</text>
<line x1="580.5" y1="538.5" x2="583.0" y2="538.5" stroke="#000" stroke-width="1"/>
<text x="583.8" y="541.9" font-size="9" font-family="DejaVu Sans, Verdana, sans-serif" fill="#000">84</text>
<line x1="580.5" y1="512.5" x2="583.0" y2="512.5" stroke="#000" stroke-width="1"/>
<text x="583.8" y="515.9" font-size="9" font-family="DejaVu Sans, Verdana, sans-serif" fill="#000">86</text>
<line x1="580.5" y1="486.5" x2="583.0" y2="486.5" stroke="#000" stroke-width="1"/>
<text x="583.8" y="489.9" font-size="9" font-family="DejaVu Sans, Verdana, sans-serif" fill="#000">88</text>
<line x1="580.5" y1="461.5" x2="583.0" y2="461.5" stroke="#000" stroke-width="1"/>
<text x="583.8" y="464.9" font-size="9" font-family="DejaVu Sans, Verdana, sans-serif" fill="#000">90</text>
<line x1="580.5" y1="437.5" x2="583.0" y2="437.5" stroke="#000" stroke-width="1"/>
<text x="583.8" y="440.9" font-size="9" font-family="DejaVu Sans, Verdana, sans-serif" fill="#000">92</text>
<line x1="580.5" y1="413.5" x2="583.0" y2="413.5" stroke="#000" stroke-width="1"/>
<text x="583.8" y="416.9" font-size="9" font-family="DejaVu Sans, Verdana, sans-serif" fill="#000">94</text>
<line x1="580.5" y1="390.5" x2="583.0" y2="390.5" stroke="#000" stroke-width="1"/>
<text x="583.8" y="393.9" font-size="9" font-family="DejaVu Sans, Verdana, sans-serif" fill="#000">96</text>
<line x1="580.5" y1="367.5" x2="583.0" y2="367.5" stroke="#000" stroke-width="1"/>
<text x="583.8" y="370.9" font-size="9" font-family="DejaVu Sans, Verdana, sans-serif" fill="#000">98</text>
<line x1="580.5" y1="345.5" x2="583.0" y2="345.5" stroke="#000" stroke-width="1"/>
<text x="583.8" y="348.9" font-size="9" font-family="DejaVu Sans, Verdana, sans-serif" fill="#000">100</text>
<line x1="580.5" y1="323.5" x2="583.0" y2="323.5" stroke="#000" stroke-width="1"/>
<text x="583.8" y="326.9" font-size="9" font-family="DejaVu Sans, Verdana, sans-serif" fill="#000">102</text>
<line x1="580.5" y1="302.5" x2="583.0" y2="302.5" stroke="#000" stroke-width="1"/>
<text x="583.8" y="305.9" font-size="9" font-family="DejaVu Sans, Verdana, sans-serif" fill="#000">104</text>
<line x1="580.5" y1="281.5" x2="583.0" y2="281.5" stroke="#000" stroke-width="1"/>
<text x="583.8" y="284.9" font-size="9" font-family="DejaVu Sans, Verdana, sans-serif" fill="#000">106</text>
<line x1="580.5" y1="260.5" x2="583.0" y2="260.5" stroke="#000" stroke-width="1"/>
<text x="583.8" y="263.9" font-size="9" font-family="DejaVu Sans, Verdana, sans-serif" fill="#000">108</text>
<line x1="580.5" y1="717.5" x2="583.0" y2="717.5" stroke="#000" stroke-width="1"/>
<text x="583.8" y="720.9" font-size="9" font-family="DejaVu Sans, Verdana, sans-serif" fill="#000">100K</text>
<line x1="580.5" y1="693.5" x2="583.0" y2="693.5" stroke="#000" stroke-width="1"/>
<text x="583.8" y="696.9" font-size="9" font-family="DejaVu Sans, Verdana, sans-serif" fill="#000">200K</text>
<line x1="580.5" y1="668.5" x2="583.0" y2="668.5" stroke="#000" stroke-width="1"/>
<text x="583.8" y="671.9" font-size="9" font-family="DejaVu Sans, Verdana, sans-serif" fill="#000">300K</text>
<line x1="580.5" y1="644.5" x2="583.0" y2="644.5" stroke="#000" stroke-width="1"/>
<text x="583.8" y="647.9" font-size="9" font-family="DejaVu Sans, Verdana, sans-serif" fill="#000">400K</text>
<line x1="580.5" y1="754.5" x2="583.0" y2="754.5" stroke="#000" stroke-width="1"/>
<text x="583.8" y="757.9" font-size="9" font-family="DejaVu Sans, Verdana, sans-serif" fill="#000">1</text>
<line x1="580.5" y1="779.5" x2="583.0" y2="779.5" stroke="#000" stroke-width="1"/>
<text x="583.8" y="782.9" font-size="9" font-family="DejaVu Sans, Verdana, sans-serif" fill="#000">0</text>
<line x1="580.5" y1="804.5" x2="583.0" y2="804.5" stroke="#000" stroke-width="1"/>
<text x="583.8" y="807.9" font-size="9" font-family="DejaVu Sans, Verdana, sans-serif" fill="#000">-1</text>
<line x1="580.5" y1="831.5" x2="583.0" y2="831.5" stroke="#000" stroke-width="1"/>
<text x="583.8" y="834.9" font-size="9" font-family="DejaVu Sans, Verdana, sans-serif" fill="#000">-2</text>
<line x1="580.5" y1="856.5" x2="583.0" y2="856.5" stroke="#000" stroke-width="1"/>
<text x="583.8" y="859.9" font-size="9" font-family="DejaVu Sans, Verdana, sans-serif" fill="#000">-3</text>
<line x1="580.5" y1="598.5" x2="582.1" y2="598.5" stroke="#000" stroke-width="1"/>
<line x1="580.5" y1="592.5" x2="582.1" y2="592.5" stroke="#000" stroke-width="1"/>
<line x1="580.5" y1="586.5" x2="582.1" y2="586.5" stroke="#000" stroke-width="1"/>
<line x1="580.5" y1="581.5" x2="582.1" y2="581.5" stroke="#000" stroke-width="1"/>
<line x1="580.5" y1="576.5" x2="582.1" y2="576.5" stroke="#000" stroke-width="1"/>
<line x1="580.5" y1="570.5" x2="582.1" y2="570.5" stroke="#000" stroke-width="1"/>
<line x1="580.5" y1="565.5" x2="582.1" y2="565.5" stroke="#000" stroke-width="1"/>
<line x1="580.5" y1="559.5" x2="582.1" y2="559.5" stroke="#000" stroke-width="1"/>
<line x1="580.5" y1="554.5" x2="582.1" y2="554.5" stroke="#000" stroke-width="1"/>
<line x1="580.5" y1="549.5" x2="582.1" y2="549.5" stroke="#000" stroke-width="1"/>
<line x1="580.5" y1="543.5" x2="582.1" y2="543.5" stroke="#000" stroke-width="1"/>
<line x1="580.5" y1="538.5" x2="582.1" y2="538.5" stroke="#000" stroke-width="1"/>
<line x1="580.5" y1="533.5" x2="582.1" y2="533.5" stroke="#000" stroke-width="1"/>
<line x1="580.5" y1="528.5" x2="582.1" y2="528.5" stroke="#000" stroke-width="1"/>
<line x1="580.5" y1="522.5" x2="582.1" y2="522.5" stroke="#000" stroke-width="1"/>
<line x1="580.5" y1="517.5" x2="582.1" y2="517.5" stroke="#000" stroke-width="1"/>
<line x1="580.5" y1="512.5" x2="582.1" y2="512.5" stroke="#000" stroke-width="1"/>
<line x1="580.5" y1="507.5" x2="582.1" y2="507.5" stroke="#000" stroke-width="1"/>
<line x1="580.5" y1="502.5" x2="582.1" y2="502.5" stroke="#000" stroke-width="1"/>
<line x1="580.5" y1="497.5" x2="582.1" y2="497.5" stroke="#000" stroke-width="1"/>
<line x1="580.5" y1="492.5" x2="582.1" y2="492.5" stroke="#000" stroke-width="1"/>
<line x1="580.5" y1="487.5" x2="582.1" y2="487.5" stroke="#000" stroke-width="1"/>
<line x1="580.5" y1="482.5" x2="582.1" y2="482.5" stroke="#000" stroke-width="1"/>
<line x1="580.5" y1="477.5" x2="582.1" y2="477.5" stroke="#000" stroke-width="1"/>
<line x1="580.5" y1="472.5" x2="582.1" y2="472.5" stroke="#000" stroke-width="1"/>
<line x1="580.5" y1="467.5" x2="582.1" y2="467.5" stroke="#000" stroke-width="1"/>
<line x1="580.5" y1="462.5" x2="582.1" y2="462.5" stroke="#000" stroke-width="1"/>
<line x1="580.5" y1="457.5" x2="582.1" y2="457.5" stroke="#000" stroke-width="1"/>
<line x1="580.5" y1="452.5" x2="582.1" y2="452.5" stroke="#000" stroke-width="1"/>
<line x1="580.5" y1="447.5" x2="582.1" y2="447.5" stroke="#000" stroke-width="1"/>
<line x1="580.5" y1="442.5" x2="582.1" y2="442.5" stroke="#000" stroke-width="1"/>
<line x1="580.5" y1="438.5" x2="582.1" y2="438.5" stroke="#000" stroke-width="1"/>
<line x1="580.5" y1="433.5" x2="582.1" y2="433.5" stroke="#000" stroke-width="1"/>
<line x1="580.5" y1="428.5" x2="582.1" y2="428.5" stroke="#000" stroke-width="1"/>
<line x1="580.5" y1="423.5" x2="582.1" y2="423.5" stroke="#000" stroke-width="1"/>
<line x1="580.5" y1="419.5" x2="582.1" y2="419.5" stroke="#000" stroke-width="1"/>
<line x1="580.5" y1="414.5" x2="582.1" y2="414.5" stroke="#000" stroke-width="1"/>
<line x1="580.5" y1="409.5" x2="582.1" y2="409.5" stroke="#000" stroke-width="1"/>
<line x1="580.5" y1="404.5" x2="582.1" y2="404.5" stroke="#000" stroke-width="1"/>
<line x1="580.5" y1="400.5" x2="582.1" y2="400.5" stroke="#000" stroke-width="1"/>
<line x1="580.5" y1="395.5" x2="582.1" y2="395.5" stroke="#000" stroke-width="1"/>
<line x1="580.5" y1="391.5" x2="582.1" y2="391.5" stroke="#000" stroke-width="1"/>
<line x1="580.5" y1="386.5" x2="582.1" y2="386.5" stroke="#000" stroke-width="1"/>
<line x1="580.5" y1="381.5" x2="582.1" y2="381.5" stroke="#000" stroke-width="1"/>
<line x1="580.5" y1="377.5" x2="582.1" y2="377.5" stroke="#000" stroke-width="1"/>
<line x1="580.5" y1="372.5" x2="582.1" y2="372.5" stroke="#000" stroke-width="1"/>
<line x1="580.5" y1="368.5" x2="582.1" y2="368.5" stroke="#000" stroke-width="1"/>
<line x1="580.5" y1="363.5" x2="582.1" y2="363.5" stroke="#000" stroke-width="1"/>
<line x1="580.5" y1="359.5" x2="582.1" y2="359.5" stroke="#000" stroke-width="1"/>
<line x1="580.5" y1="354.5" x2="582.1" y2="354.5" stroke="#000" stroke-width="1"/>
<line x1="580.5" y1="350.5" x2="582.1" y2="350.5" stroke="#000" stroke-width="1"/>
<line x1="580.5" y1="345.5" x2="582.1" y2="345.5" stroke="#000" stroke-width="1"/>
<line x1="580.5" y1="341.5" x2="582.1" y2="341.5" stroke="#000" stroke-width="1"/>
<line x1="580.5" y1="337.5" x2="582.1" y2="337.5" stroke="#000" stroke-width="1"/>
<line x1="580.5" y1="332.5" x2="582.1" y2="332.5" stroke="#000" stroke-width="1"/>
<line x1="580.5" y1="328.5" x2="582.1" y2="328.5" stroke="#000" stroke-width="1"/>
<line x1="580.5" y1="324.5" x2="582.1" y2="324.5" stroke="#000" stroke-width="1"/>
<line x1="580.5" y1="319.5" x2="582.1" y2="319.5" stroke="#000" stroke-width="1"/>
<line x1="580.5" y1="315.5" x2="582.1" y2="315.5" stroke="#000" stroke-width="1"/>
<line x1="580.5" y1="311.5" x2="582.1" y2="311.5" stroke="#000" stroke-width="1"/>
<line x1="580.5" y1="306.5" x2="582.1" y2="306.5" stroke="#000" stroke-width="1"/>
<line x1="580.5" y1="302.5" x2="582.1" y2="302.5" stroke="#000" stroke-width="1"/>
<line x1="580.5" y1="298.5" x2="582.1" y2="298.5" stroke="#000" stroke-width="1"/>
<line x1="580.5" y1="294.5" x2="582.1" y2="294.5" stroke="#000" stroke-width="1"/>
<line x1="580.5" y1="289.5" x2="582.1" y2="289.5" stroke="#000" stroke-width="1"/>
<line x1="580.5" y1="285.5" x2="582.1" y2="285.5" stroke="#000" stroke-width="1"/>
<line x1="580.5" y1="281.5" x2="582.1" y2="281.5" stroke="#000" stroke-width="1"/>
<line x1="580.5" y1="277.5" x2="582.1" y2="277.5" stroke="#000" stroke-width="1"/>
<line x1="580.5" y1="273.5" x2="582.1" y2="273.5" stroke="#000" stroke-width="1"/>
<line x1="580.5" y1="269.5" x2="582.1" y2="269.5" stroke="#000" stroke-width="1"/>
<line x1="580.5" y1="264.5" x2="582.1" y2="264.5" stroke="#000" stroke-width="1"/>
<line x1="580.5" y1="260.5" x2="582.1" y2="260.5" stroke="#000" stroke-width="1"/>
<line x1="580.5" y1="249.5" x2="582.1" y2="249.5" stroke="#000" stroke-width="1"/>
<line x1="580.5" y1="244.5" x2="582.1" y2="244.5" stroke="#000" stroke-width="1"/>
<line x1="580.5" y1="240.5" x2="582.1" y2="240.5" stroke="#000" stroke-width="1"/>
<line x1="580.5" y1="236.5" x2="582.1" y2="236.5" stroke="#000" stroke-width="1"/>
<line x1="580.5" y1="232.5" x2="582.1" y2="232.5" stroke="#000" stroke-width="1"/>
<line x1="580.5" y1="228.5" x2="582.1" y2="228.5" stroke="#000" stroke-width="1"/>
<line x1="580.5" y1="223.5" x2="582.1" y2="223.5" stroke="#000" stroke-width="1"/>
<line x1="580.5" y1="219.5" x2="582.1" y2="219.5" stroke="#000" stroke-width="1"/>
<line x1="580.5" y1="215.5" x2="582.1" y2="215.5" stroke="#000" stroke-width="1"/>
<line x1="580.5" y1="211.5" x2="582.1" y2="211.5" stroke="#000" stroke-width="1"/>
<line x1="580.5" y1="207.5" x2="582.1" y2="207.5" stroke="#000" stroke-width="1"/>
<line x1="580.5" y1="202.5" x2="582.1" y2="202.5" stroke="#000" stroke-width="1"/>
<line x1="580.5" y1="198.5" x2="582.1" y2="198.5" stroke="#000" stroke-width="1"/>
<line x1="580.5" y1="194.5" x2="582.1" y2="194.5" stroke="#000" stroke-width="1"/>
<line x1="580.5" y1="190.5" x2="582.1" y2="190.5" stroke="#000" stroke-width="1"/>
<line x1="580.5" y1="185.5" x2="582.1" y2="185.5" stroke="#000" stroke-width="1"/>
<line x1="580.5" y1="181.5" x2="582.1" y2="181.5" stroke="#000" stroke-width="1"/>
<line x1="580.5" y1="177.5" x2="582.1" y2="177.5" stroke="#000" stroke-width="1"/>
<line x1="580.5" y1="173.5" x2="582.1" y2="173.5" stroke="#000" stroke-width="1"/>
<line x1="580.5" y1="169.5" x2="582.1" y2="169.5" stroke="#000" stroke-width="1"/>
<line x1="580.5" y1="164.5" x2="582.1" y2="164.5" stroke="#000" stroke-width="1"/>
<line x1="580.5" y1="160.5" x2="582.1" y2="160.5" stroke="#000" stroke-width="1"/>
<line x1="580.5" y1="156.5" x2="582.1" y2="156.5" stroke="#000" stroke-width="1"/>
<line x1="580.5" y1="152.5" x2="582.1" y2="152.5" stroke="#000" stroke-width="1"/>
<line x1="580.5" y1="148.5" x2="582.1" y2="148.5" stroke="#000" stroke-width="1"/>
<line x1="580.5" y1="143.5" x2="582.1" y2="143.5" stroke="#000" stroke-width="1"/>
<line x1="580.5" y1="737.5" x2="582.1" y2="737.5" stroke="#000" stroke-width="1"/>
<line x1="580.5" y1="732.5" x2="582.1" y2="732.5" stroke="#000" stroke-width="1"/>
<line x1="580.5" y1="727.5" x2="582.1" y2="727.5" stroke="#000" stroke-width="1"/>
<line x1="580.5" y1="722.5" x2="582.1" y2="722.5" stroke="#000" stroke-width="1"/>
<line x1="580.5" y1="717.5" x2="582.1" y2="717.5" stroke="#000" stroke-width="1"/>
<line x1="580.5" y1="712.5" x2="582.1" y2="712.5" stroke="#000" stroke-width="1"/>
<line x1="580.5" y1="707.5" x2="582.1" y2="707.5" stroke="#000" stroke-width="1"/>
<line x1="580.5" y1="702.5" x2="582.1" y2="702.5" stroke="#000" stroke-width="1"/>
<line x1="580.5" y1="698.5" x2="582.1" y2="698.5" stroke="#000" stroke-width="1"/>
<line x1="580.5" y1="693.5" x2="582.1" y2="693.5" stroke="#000" stroke-width="1"/>
<line x1="580.5" y1="688.5" x2="582.1" y2="688.5" stroke="#000" stroke-width="1"/>
<line x1="580.5" y1="683.5" x2="582.1" y2="683.5" stroke="#000" stroke-width="1"/>
<line x1="580.5" y1="678.5" x2="582.1" y2="678.5" stroke="#000" stroke-width="1"/>
<line x1="580.5" y1="673.5" x2="582.1" y2="673.5" stroke="#000" stroke-width="1"/>
<line x1="580.5" y1="668.5" x2="582.1" y2="668.5" stroke="#000" stroke-width="1"/>
<line x1="580.5" y1="663.5" x2="582.1" y2="663.5" stroke="#000" stroke-width="1"/>
<line x1="580.5" y1="659.5" x2="582.1" y2="659.5" stroke="#000" stroke-width="1"/>
<line x1="580.5" y1="654.5" x2="582.1" y2="654.5" stroke="#000" stroke-width="1"/>
<line x1="580.5" y1="649.5" x2="582.1" y2="649.5" stroke="#000" stroke-width="1"/>
<line x1="580.5" y1="644.5" x2="582.1" y2="644.5" stroke="#000" stroke-width="1"/>
<line x1="580.5" y1="639.5" x2="582.1" y2="639.5" stroke="#000" stroke-width="1"/>
<line x1="580.5" y1="634.5" x2="582.1" y2="634.5" stroke="#000" stroke-width="1"/>
<line x1="580.5" y1="629.5" x2="582.1" y2="629.5" stroke="#000" stroke-width="1"/>
<line x1="580.5" y1="861.5" x2="582.1" y2="861.5" stroke="#000" stroke-width="1"/>
<line x1="580.5" y1="856.5" x2="582.1" y2="856.5" stroke="#000" stroke-width="1"/>
<line x1="580.5" y1="851.5" x2="582.1" y2="851.5" stroke="#000" stroke-width="1"/>
<line x1="580.5" y1="846.5" x2="582.1" y2="846.5" stroke="#000" stroke-width="1"/>
<line x1="580.5" y1="841.5" x2="582.1" y2="841.5" stroke="#000" stroke-width="1"/>
<line x1="580.5" y1="836.5" x2="582.1" y2="836.5" stroke="#000" stroke-width="1"/>
<line x1="580.5" y1="830.5" x2="582.1" y2="830.5" stroke="#000" stroke-width="1"/>
<line x1="580.5" y1="825.5" x2="582.1" y2="825.5" stroke="#000" stroke-width="1"/>
<line x1="580.5" y1="820.5" x2="582.1" y2="820.5" stroke="#000" stroke-width="1"/>
<line x1="580.5" y1="815.5" x2="582.1" y2="815.5" stroke="#000" stroke-width="1"/>
<line x1="580.5" y1="810.5" x2="582.1" y2="810.5" stroke="#000" stroke-width="1"/>
<line x1="580.5" y1="805.5" x2="582.1" y2="805.5" stroke="#000" stroke-width="1"/>
<line x1="580.5" y1="800.5" x2="582.1" y2="800.5" stroke="#000" stroke-width="1"/>
<line x1="580.5" y1="794.5" x2="582.1" y2="794.5" stroke="#000" stroke-width="1"/>
<line x1="580.5" y1="789.5" x2="582.1" y2="789.5" stroke="#000" stroke-width="1"/>
<line x1="580.5" y1="784.5" x2="582.1" y2="784.5" stroke="#000" stroke-width="1"/>
<line x1="580.5" y1="779.5" x2="582.1" y2="779.5" stroke="#000" stroke-width="1"/>
<line x1="580.5" y1="774.5" x2="582.1" y2="774.5" stroke="#000" stroke-width="1"/>
<line x1="580.5" y1="769.5" x2="582.1" y2="769.5" stroke="#000" stroke-width="1"/>
<line x1="580.5" y1="764.5" x2="582.1" y2="764.5" stroke="#000" stroke-width="1"/>
<line x1="580.5" y1="758.5" x2="582.1" y2="758.5" stroke="#000" stroke-width="1"/>
<line x1="580.5" y1="753.5" x2="582.1" y2="753.5" stroke="#000" stroke-width="1"/>
<line x1="580.5" y1="748.5" x2="582.1" y2="748.5" stroke="#000" stroke-width="1"/>
<rect x="581" y="589.5" width="38" height="10.5" fill="#c4c4c4"/>
<text x="583.8" y="594.9" font-size="9" font-family="DejaVu Sans, Verdana, sans-serif" fill="#8898b8">80</text>
<polygon fill="#d8d0f0" stroke="none" points="19.3,144.5 23.4,137 25.7,141.7 27.6,139 27.6,144.5"/>
<polyline fill="none" stroke="#1a2860" stroke-width="1.3" stroke-linejoin="miter" points="19.3,144.5 23.4,137 25.7,141.7 27.6,139 27.6,144.5"/>
<text x="31" y="144.5" font-size="9.6" font-family="DejaVu Sans, Verdana, sans-serif" fill="#000" textLength="80" lengthAdjust="spacing">RSI(14) 34.28</text>
<rect x="18" y="258" width="132" height="36" fill="#fff" opacity="0.0"/>
<g stroke="#000" stroke-width="1" fill="#fff"><line x1="20.5" y1="260" x2="20.5" y2="268"/><rect x="19.5" y="262" width="2" height="4" fill="#000"/><line x1="25.5" y1="260" x2="25.5" y2="268"/><rect x="24.5" y="262" width="2" height="4"/></g>
<text x="32" y="267" font-size="9.8" font-family="DejaVu Sans, Liberation Sans, sans-serif" fill="#000" textLength="115" lengthAdjust="spacing">$WTIC (Daily) 80.70</text>
<line x1="19.5" y1="273.8" x2="28" y2="273.8" stroke="#1c2448" stroke-width="1.8"/>
<text x="29.5" y="277.2" font-size="9" font-family="DejaVu Sans, Liberation Sans, sans-serif" fill="#22305a" textLength="60" lengthAdjust="spacingAndGlyphs">MA(50) 89.08</text>
<line x1="19.5" y1="285.5" x2="28" y2="285.5" stroke="#7a2a40" stroke-width="1.5"/>
<text x="29.5" y="288.9" font-size="9" font-family="DejaVu Sans, Liberation Sans, sans-serif" fill="#7a2a40" textLength="65" lengthAdjust="spacingAndGlyphs">MA(200) 98.13</text>
<g fill="#3a5fa8" stroke="#15275c" stroke-width="0.8"><rect x="19.8" y="626.3" width="2.4" height="4.3"/><rect x="22.7" y="622.6" width="2.4" height="8"/><rect x="25.6" y="624.9" width="2.4" height="5.7"/></g>
<text x="31.2" y="630.6" font-size="9.8" font-family="DejaVu Sans, Liberation Sans, sans-serif" fill="#000" textLength="92.5" lengthAdjust="spacingAndGlyphs">Volume 277,900</text>
<rect x="17" y="743" width="240" height="11.5" fill="#fff"/>
<line x1="19" y1="749.5" x2="28" y2="749.5" stroke="#1c2448" stroke-width="1.7"/>
<text x="32" y="752.6" font-size="9.8" font-family="DejaVu Sans, Liberation Sans, sans-serif" textLength="210.5" lengthAdjust="spacingAndGlyphs"><tspan fill="#000">MACD(12,26,9) </tspan><tspan fill="#22305a">-2.563</tspan><tspan fill="#7a2a40">, -2.725</tspan><tspan fill="#7080a8">, 0.162</tspan></text>
<text x="29.3" y="247" font-size="18" font-weight="bold" fill="#4040a0">LIGHT CRUDE: <tspan x="164.5" font-family="Liberation Serif, serif" font-size="19">6-month</tspan></text>
<text x="496.5" y="496.6" font-size="13.5" font-weight="bold" fill="#4040a0" text-anchor="middle">BEAR</text>
<text x="497" y="510.3" font-size="13.5" font-weight="bold" fill="#4040a0" text-anchor="middle">PENNANT</text>
<text x="523" y="598.8" font-size="12" font-weight="bold" fill="#000">SUPPORT</text>
<text x="196.8" y="638" font-size="14" font-weight="bold" fill="#4040a0" textLength="222.5" lengthAdjust="spacing">High volume on downleg bearish.</text>
<text x="132.5" y="849.5" font-size="14" font-weight="bold" fill="#4040a0" textLength="317" lengthAdjust="spacing">Being oversold will not save it on this occasion.</text>
<line x1="523.5" y1="604" x2="546.8" y2="760" stroke="#cf0c20" stroke-width="3.9"/>
<polygon points="539.5,760.2 553.2,757.4 549.3,774.5" fill="#cf0c20"/>
<text x="16.8" y="119.8" font-size="14.5" font-weight="bold" fill="#000" textLength="40" lengthAdjust="spacingAndGlyphs">$WTIC</text>
<text x="61.5" y="119.4" font-size="11" fill="#000" textLength="163.5" lengthAdjust="spacingAndGlyphs">Light Crude Oil - Spot Price (EOD)</text>
<text x="228.5" y="119.4" font-size="9" fill="#000" textLength="21.5" lengthAdjust="spacingAndGlyphs">CME</text>
<text x="580" y="118.5" font-size="10.5" fill="#2a3a5a" text-anchor="end" textLength="90" lengthAdjust="spacingAndGlyphs">©StockCharts.com</text>
<text x="17" y="131.6" font-size="9.7" fill="#000" textLength="59" lengthAdjust="spacing">31-Oct-2014</text>
<text x="135.8" y="131.6" font-size="10.6" fill="#000" font-weight="bold" textLength="28.2" lengthAdjust="spacingAndGlyphs">Open</text>
<text x="168" y="131.6" font-size="10.2" fill="#000" textLength="28.0" lengthAdjust="spacingAndGlyphs">81.04</text>
<text x="201.6" y="131.6" font-size="10.6" fill="#000" font-weight="bold" textLength="23.4" lengthAdjust="spacingAndGlyphs">High</text>
<text x="228.4" y="131.6" font-size="10.2" fill="#000" textLength="27.1" lengthAdjust="spacingAndGlyphs">81.27</text>
<text x="261.6" y="131.6" font-size="10.6" fill="#000" font-weight="bold" textLength="23.2" lengthAdjust="spacingAndGlyphs">Low</text>
<text x="288.7" y="131.6" font-size="10.2" fill="#000" textLength="27.8" lengthAdjust="spacingAndGlyphs">79.55</text>
<text x="322.5" y="131.6" font-size="10.6" fill="#000" font-weight="bold" textLength="31.5" lengthAdjust="spacingAndGlyphs">Close</text>
<text x="357.5" y="131.6" font-size="10.2" fill="#000" textLength="28.0" lengthAdjust="spacingAndGlyphs">80.70</text>
<text x="391" y="131.6" font-size="10.6" fill="#000" font-weight="bold" textLength="41.5" lengthAdjust="spacingAndGlyphs">Volume</text>
<text x="436.5" y="131.6" font-size="10.2" fill="#000" textLength="34.5" lengthAdjust="spacingAndGlyphs">277.9K</text>
<text x="477.5" y="131.6" font-size="10.6" fill="#000" font-weight="bold" textLength="21.5" lengthAdjust="spacingAndGlyphs">Chg</text>
<text x="502.5" y="131.6" font-size="10.2" fill="#000" textLength="67.5" lengthAdjust="spacingAndGlyphs">-0.32 (-0.39%)</text>
<polygon points="573,127.3 580.2,127.3 576.6,131.5" fill="#7a2030"/>
</svg>
</body></html>
